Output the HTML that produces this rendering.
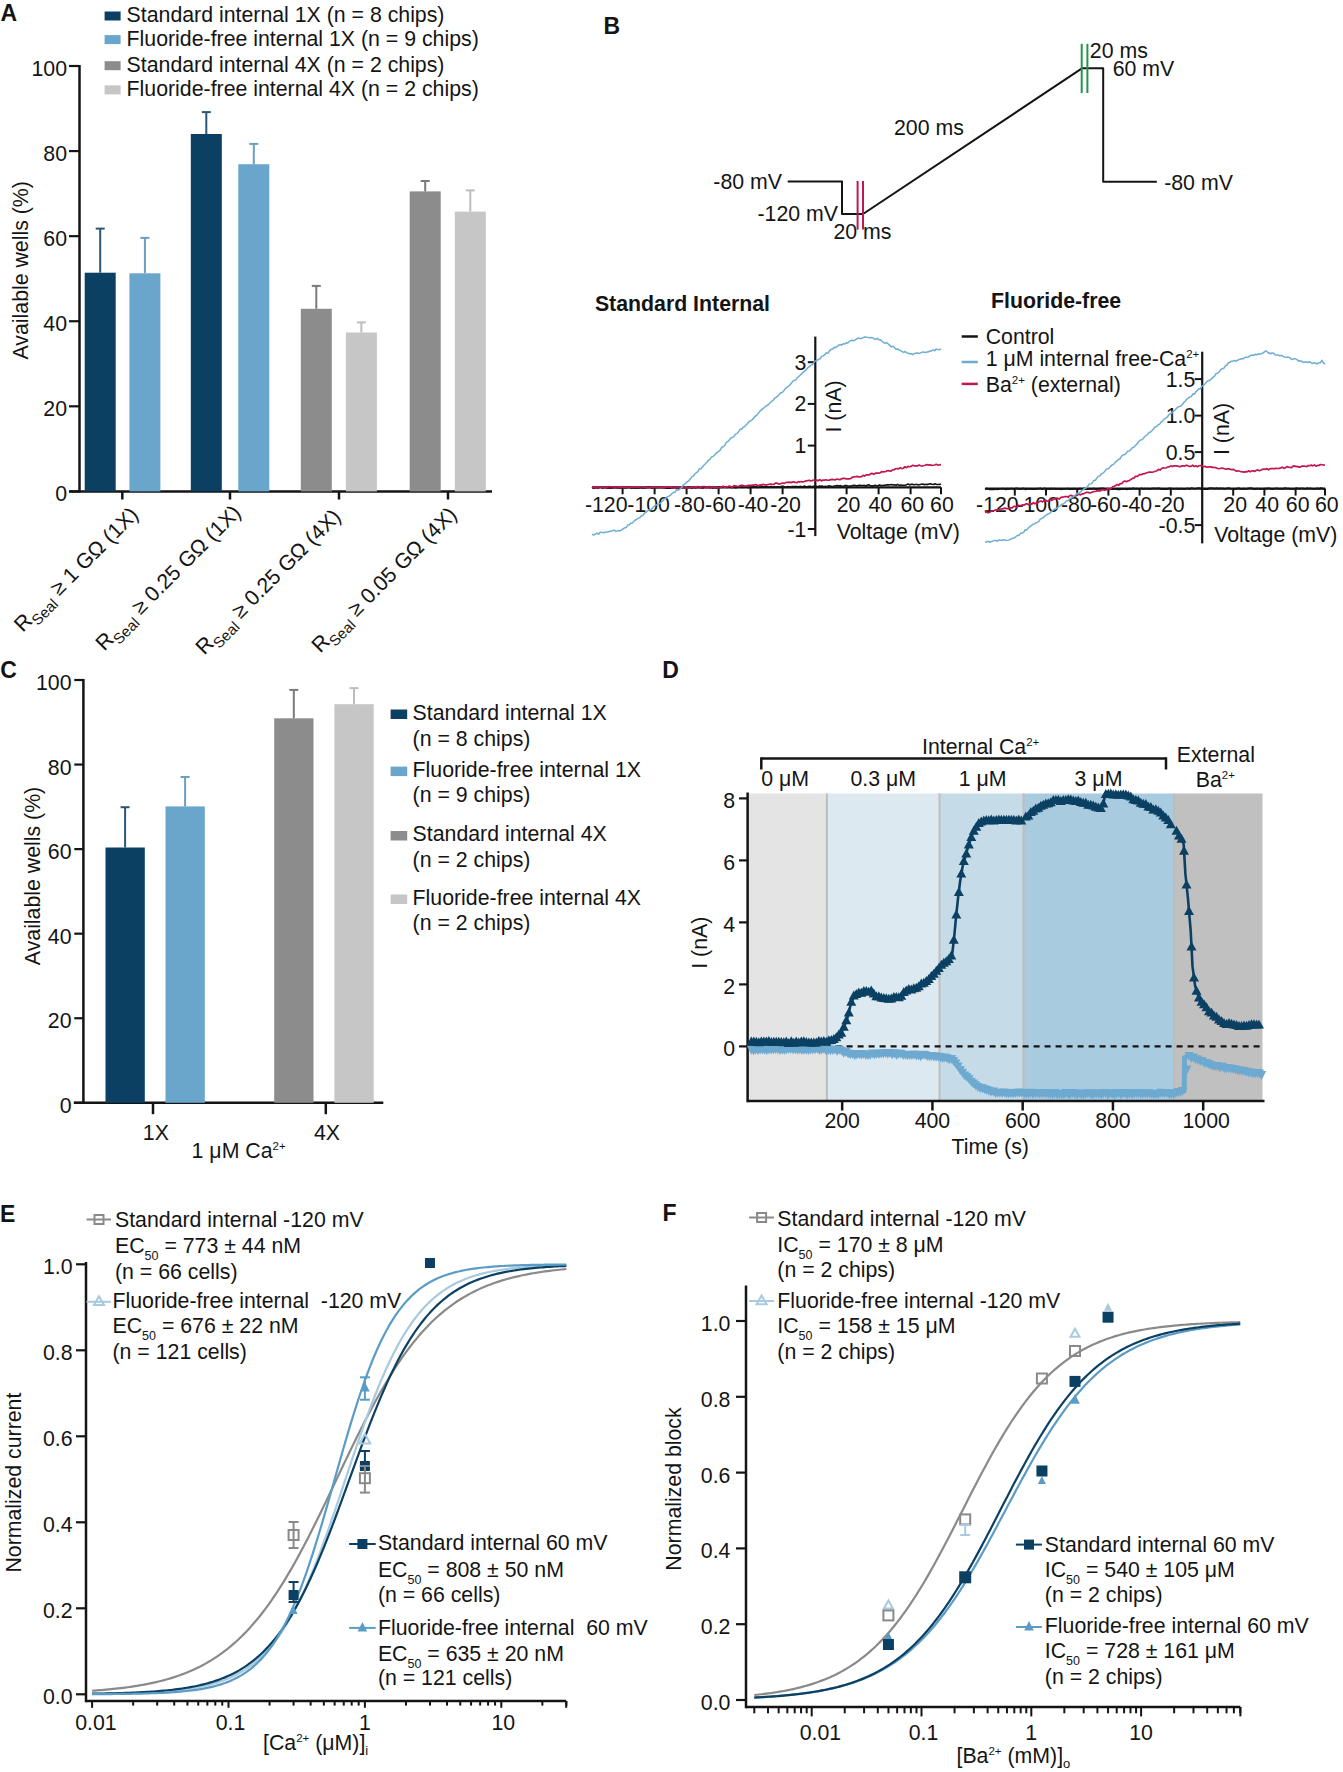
<!DOCTYPE html>
<html><head><meta charset="utf-8"><style>
html,body{margin:0;padding:0;background:#fff;overflow:hidden;}
svg{display:block;font-family:"Liberation Sans", sans-serif;}
</style></head><body>
<svg width="1343" height="1772" viewBox="0 0 1343 1772">
<rect width="1343" height="1772" fill="#fff"/>
<text x="0.5" y="20.6" font-size="23" text-anchor="start" font-weight="bold" fill="#141414" >A</text>
<rect x="104.60" y="11.50" width="16.00" height="9.00" fill="#0b4063"/>
<text x="126.6" y="22.0" font-size="21.3" text-anchor="start" font-weight="normal" fill="#141414" >Standard internal 1X (n = 8 chips)</text>
<rect x="104.60" y="35.10" width="16.00" height="9.00" fill="#6aa6cb"/>
<text x="126.6" y="45.6" font-size="21.3" text-anchor="start" font-weight="normal" fill="#141414" >Fluoride-free internal 1X (n = 9 chips)</text>
<rect x="104.60" y="61.20" width="16.00" height="9.00" fill="#8c8c8c"/>
<text x="126.6" y="71.7" font-size="21.3" text-anchor="start" font-weight="normal" fill="#141414" >Standard internal 4X (n = 2 chips)</text>
<rect x="104.60" y="85.40" width="16.00" height="9.00" fill="#c6c6c6"/>
<text x="126.6" y="95.9" font-size="21.3" text-anchor="start" font-weight="normal" fill="#141414" >Fluoride-free internal 4X (n = 2 chips)</text>
<line x1="79.50" y1="65.00" x2="79.50" y2="492.60" stroke="#141414" stroke-width="2.5" />
<line x1="69.00" y1="491.40" x2="492.00" y2="491.40" stroke="#141414" stroke-width="2.5" />
<line x1="69.00" y1="491.40" x2="79.50" y2="491.40" stroke="#141414" stroke-width="2.2" />
<text x="67.0" y="501.3" font-size="21.3" text-anchor="end" font-weight="normal" fill="#141414" >0</text>
<line x1="69.00" y1="406.32" x2="79.50" y2="406.32" stroke="#141414" stroke-width="2.2" />
<text x="67.0" y="416.2" font-size="21.3" text-anchor="end" font-weight="normal" fill="#141414" >20</text>
<line x1="69.00" y1="321.24" x2="79.50" y2="321.24" stroke="#141414" stroke-width="2.2" />
<text x="67.0" y="331.1" font-size="21.3" text-anchor="end" font-weight="normal" fill="#141414" >40</text>
<line x1="69.00" y1="236.16" x2="79.50" y2="236.16" stroke="#141414" stroke-width="2.2" />
<text x="67.0" y="246.1" font-size="21.3" text-anchor="end" font-weight="normal" fill="#141414" >60</text>
<line x1="69.00" y1="151.08" x2="79.50" y2="151.08" stroke="#141414" stroke-width="2.2" />
<text x="67.0" y="161.0" font-size="21.3" text-anchor="end" font-weight="normal" fill="#141414" >80</text>
<line x1="69.00" y1="66.00" x2="79.50" y2="66.00" stroke="#141414" stroke-width="2.2" />
<text x="67.0" y="75.9" font-size="21.3" text-anchor="end" font-weight="normal" fill="#141414" >100</text>
<line x1="122.30" y1="491.40" x2="122.30" y2="499.50" stroke="#141414" stroke-width="2.5" />
<line x1="230.00" y1="491.40" x2="230.00" y2="499.50" stroke="#141414" stroke-width="2.5" />
<line x1="339.00" y1="491.40" x2="339.00" y2="499.50" stroke="#141414" stroke-width="2.5" />
<line x1="448.00" y1="491.40" x2="448.00" y2="499.50" stroke="#141414" stroke-width="2.5" />
<rect x="84.70" y="272.70" width="31.00" height="218.70" fill="#0b4063"/>
<line x1="100.20" y1="228.60" x2="100.20" y2="272.70" stroke="#2b5677" stroke-width="2" />
<line x1="95.70" y1="228.60" x2="104.70" y2="228.60" stroke="#2b5677" stroke-width="2" />
<rect x="129.40" y="273.30" width="31.00" height="218.10" fill="#6aa6cb"/>
<line x1="144.90" y1="237.90" x2="144.90" y2="273.30" stroke="#6a9fc0" stroke-width="2" />
<line x1="140.40" y1="237.90" x2="149.40" y2="237.90" stroke="#6a9fc0" stroke-width="2" />
<rect x="190.80" y="134.00" width="31.00" height="357.40" fill="#0b4063"/>
<line x1="206.30" y1="112.10" x2="206.30" y2="134.00" stroke="#2b5677" stroke-width="2" />
<line x1="201.80" y1="112.10" x2="210.80" y2="112.10" stroke="#2b5677" stroke-width="2" />
<rect x="238.30" y="164.20" width="31.00" height="327.20" fill="#6aa6cb"/>
<line x1="253.80" y1="143.90" x2="253.80" y2="164.20" stroke="#6a9fc0" stroke-width="2" />
<line x1="249.30" y1="143.90" x2="258.30" y2="143.90" stroke="#6a9fc0" stroke-width="2" />
<rect x="300.80" y="308.80" width="31.00" height="182.60" fill="#8c8c8c"/>
<line x1="316.30" y1="285.90" x2="316.30" y2="308.80" stroke="#7a7a7a" stroke-width="2" />
<line x1="311.80" y1="285.90" x2="320.80" y2="285.90" stroke="#7a7a7a" stroke-width="2" />
<rect x="345.90" y="332.50" width="31.00" height="158.90" fill="#c6c6c6"/>
<line x1="361.40" y1="322.40" x2="361.40" y2="332.50" stroke="#bdbdbd" stroke-width="2" />
<line x1="356.90" y1="322.40" x2="365.90" y2="322.40" stroke="#bdbdbd" stroke-width="2" />
<rect x="409.70" y="191.40" width="31.00" height="300.00" fill="#8c8c8c"/>
<line x1="425.20" y1="181.00" x2="425.20" y2="191.40" stroke="#7a7a7a" stroke-width="2" />
<line x1="420.70" y1="181.00" x2="429.70" y2="181.00" stroke="#7a7a7a" stroke-width="2" />
<rect x="454.80" y="211.60" width="31.00" height="279.80" fill="#c6c6c6"/>
<line x1="470.30" y1="190.40" x2="470.30" y2="211.60" stroke="#bdbdbd" stroke-width="2" />
<line x1="465.80" y1="190.40" x2="474.80" y2="190.40" stroke="#bdbdbd" stroke-width="2" />
<text x="28.4" y="270.3" font-size="21.3" text-anchor="middle" font-weight="normal" fill="#141414" transform="rotate(-90 28.4 270.3)">Available wells (%)</text>
<text x="139.6" y="516.0" font-size="21.3" text-anchor="end" font-weight="normal" fill="#141414" transform="rotate(-45 139.6 516)">R<tspan font-size="15" dy="6">Seal</tspan><tspan dy="-6"> ≥ 1 GΩ (1X)</tspan></text>
<text x="242.0" y="514.0" font-size="21.3" text-anchor="end" font-weight="normal" fill="#141414" transform="rotate(-45 242 514)">R<tspan font-size="15" dy="6">Seal</tspan><tspan dy="-6"> ≥ 0.25 GΩ (1X)</tspan></text>
<text x="342.0" y="518.0" font-size="21.3" text-anchor="end" font-weight="normal" fill="#141414" transform="rotate(-45 342 518)">R<tspan font-size="15" dy="6">Seal</tspan><tspan dy="-6"> ≥ 0.25 GΩ (4X)</tspan></text>
<text x="458.0" y="516.0" font-size="21.3" text-anchor="end" font-weight="normal" fill="#141414" transform="rotate(-45 458 516)">R<tspan font-size="15" dy="6">Seal</tspan><tspan dy="-6"> ≥ 0.05 GΩ (4X)</tspan></text>
<text x="603.5" y="34.4" font-size="23" text-anchor="start" font-weight="bold" fill="#141414" >B</text>
<polyline points="787.70,181.40 842.00,181.40 842.00,214.00 863.00,214.00 1082.30,68.20 1103.20,68.20 1103.20,181.70 1156.80,181.70" fill="none" stroke="#141414" stroke-width="2" stroke-linejoin="round" />
<line x1="857.60" y1="181.00" x2="857.60" y2="229.60" stroke="#c2174e" stroke-width="2" />
<line x1="863.00" y1="181.00" x2="863.00" y2="229.60" stroke="#c2174e" stroke-width="2" />
<line x1="1081.70" y1="43.80" x2="1081.70" y2="93.00" stroke="#24944a" stroke-width="2" />
<line x1="1087.40" y1="43.80" x2="1087.40" y2="93.00" stroke="#24944a" stroke-width="2" />
<text x="713.3" y="188.7" font-size="21.3" text-anchor="start" font-weight="normal" fill="#141414" >-80 mV</text>
<text x="757.5" y="221.0" font-size="21.3" text-anchor="start" font-weight="normal" fill="#141414" >-120 mV</text>
<text x="833.5" y="239.0" font-size="21.3" text-anchor="start" font-weight="normal" fill="#141414" >20 ms</text>
<text x="894.0" y="134.7" font-size="21.3" text-anchor="start" font-weight="normal" fill="#141414" >200 ms</text>
<text x="1089.8" y="57.8" font-size="21.3" text-anchor="start" font-weight="normal" fill="#141414" >20 ms</text>
<text x="1112.7" y="76.0" font-size="21.3" text-anchor="start" font-weight="normal" fill="#141414" >60 mV</text>
<text x="1164.2" y="189.8" font-size="21.3" text-anchor="start" font-weight="normal" fill="#141414" >-80 mV</text>
<text x="594.9" y="311.3" font-size="21.3" text-anchor="start" font-weight="bold" fill="#141414" >Standard Internal</text>
<line x1="815.30" y1="336.60" x2="815.30" y2="536.10" stroke="#141414" stroke-width="2.2" />
<line x1="592.00" y1="487.30" x2="941.00" y2="487.30" stroke="#141414" stroke-width="2.2" />
<line x1="807.80" y1="362.20" x2="815.30" y2="362.20" stroke="#141414" stroke-width="2" />
<text x="806.4" y="369.7" font-size="21.3" text-anchor="end" font-weight="normal" fill="#141414" >3</text>
<line x1="807.80" y1="403.90" x2="815.30" y2="403.90" stroke="#141414" stroke-width="2" />
<text x="806.4" y="411.4" font-size="21.3" text-anchor="end" font-weight="normal" fill="#141414" >2</text>
<line x1="807.80" y1="445.60" x2="815.30" y2="445.60" stroke="#141414" stroke-width="2" />
<text x="806.4" y="453.1" font-size="21.3" text-anchor="end" font-weight="normal" fill="#141414" >1</text>
<line x1="807.80" y1="529.00" x2="815.30" y2="529.00" stroke="#141414" stroke-width="2" />
<text x="806.4" y="536.5" font-size="21.3" text-anchor="end" font-weight="normal" fill="#141414" >-1</text>
<line x1="622.60" y1="487.30" x2="622.60" y2="494.30" stroke="#141414" stroke-width="2" />
<line x1="654.60" y1="487.30" x2="654.60" y2="494.30" stroke="#141414" stroke-width="2" />
<line x1="686.60" y1="487.30" x2="686.60" y2="494.30" stroke="#141414" stroke-width="2" />
<line x1="718.60" y1="487.30" x2="718.60" y2="494.30" stroke="#141414" stroke-width="2" />
<line x1="750.60" y1="487.30" x2="750.60" y2="494.30" stroke="#141414" stroke-width="2" />
<line x1="782.60" y1="487.30" x2="782.60" y2="494.30" stroke="#141414" stroke-width="2" />
<line x1="846.60" y1="487.30" x2="846.60" y2="494.30" stroke="#141414" stroke-width="2" />
<line x1="878.60" y1="487.30" x2="878.60" y2="494.30" stroke="#141414" stroke-width="2" />
<line x1="910.60" y1="487.30" x2="910.60" y2="494.30" stroke="#141414" stroke-width="2" />
<line x1="941.00" y1="487.30" x2="941.00" y2="494.30" stroke="#141414" stroke-width="2" />
<text x="584.9" y="511.6" font-size="21.3" text-anchor="start" font-weight="normal" fill="#141414" >-120</text>
<text x="627.3" y="511.6" font-size="21.3" text-anchor="start" font-weight="normal" fill="#141414" >-100</text>
<text x="674.0" y="511.6" font-size="21.3" text-anchor="start" font-weight="normal" fill="#141414" >-80</text>
<text x="705.1" y="511.6" font-size="21.3" text-anchor="start" font-weight="normal" fill="#141414" >-60</text>
<text x="737.7" y="511.6" font-size="21.3" text-anchor="start" font-weight="normal" fill="#141414" >-40</text>
<text x="770.2" y="511.6" font-size="21.3" text-anchor="start" font-weight="normal" fill="#141414" >-20</text>
<text x="836.7" y="511.6" font-size="21.3" text-anchor="start" font-weight="normal" fill="#141414" >20</text>
<text x="868.4" y="511.6" font-size="21.3" text-anchor="start" font-weight="normal" fill="#141414" >40</text>
<text x="900.4" y="511.6" font-size="21.3" text-anchor="start" font-weight="normal" fill="#141414" >60</text>
<text x="930.1" y="511.6" font-size="21.3" text-anchor="start" font-weight="normal" fill="#141414" >60</text>
<text x="836.7" y="538.9" font-size="21.3" text-anchor="start" font-weight="normal" fill="#141414" >Voltage (mV)</text>
<text x="840.5" y="406.5" font-size="21.3" text-anchor="middle" font-weight="normal" fill="#141414" transform="rotate(-90 840.5 406.5)">I (nA)</text>
<polyline points="592.00,487.49 593.50,487.85 595.00,487.64 596.50,487.92 598.00,487.94 599.50,487.26 601.00,487.20 602.50,488.19 604.00,487.49 605.50,487.46 607.00,488.37 608.50,487.73 610.00,488.17 611.50,487.74 613.00,487.93 614.50,487.34 616.00,487.92 617.50,488.19 619.00,487.78 620.50,488.04 622.00,487.95 623.50,487.22 625.00,488.05 626.50,487.85 628.00,487.49 629.50,487.17 631.00,488.17 632.50,487.69 634.00,487.98 635.50,488.17 637.00,487.97 638.50,488.22 640.00,487.59 641.50,488.07 643.00,487.64 644.50,488.23 646.00,488.15 647.50,487.21 649.00,487.26 650.50,487.35 652.00,488.25 653.50,487.61 655.00,487.84 656.50,487.44 658.00,487.69 659.50,487.54 661.00,487.49 662.50,487.77 664.00,487.77 665.50,488.15 667.00,487.88 668.50,488.17 670.00,488.08 671.50,488.24 673.00,487.86 674.50,487.24 676.00,488.08 677.50,488.20 679.00,488.12 680.50,487.72 682.00,487.89 683.50,487.28 685.00,488.03 686.50,487.71 688.00,487.36 689.50,487.10 691.00,488.04 692.50,488.20 694.00,487.12 695.50,487.97 697.00,487.50 698.50,487.18 700.00,487.35 701.51,487.91 703.03,488.02 704.54,487.01 706.05,487.68 707.57,486.98 709.08,487.78 710.59,487.30 712.11,487.94 713.62,488.05 715.13,487.46 716.64,488.04 718.16,487.20 719.67,486.90 721.18,487.52 722.70,486.82 724.21,487.01 725.72,487.24 727.24,487.47 728.75,486.91 730.26,486.76 731.78,487.74 733.29,487.06 734.80,487.82 736.32,487.73 737.83,487.09 739.34,487.18 740.86,487.23 742.37,487.37 743.88,487.30 745.39,487.24 746.91,487.30 748.42,487.67 749.93,487.13 751.45,487.03 752.96,487.36 754.47,486.76 755.99,486.83 757.50,487.62 759.01,487.06 760.53,487.08 762.04,486.42 763.55,486.89 765.07,487.07 766.58,486.39 768.09,487.09 769.61,487.09 771.12,486.39 772.63,487.06 774.14,486.85 775.66,487.09 777.17,486.68 778.68,487.10 780.20,487.12 781.71,486.25 783.22,486.28 784.74,487.00 786.25,487.33 787.76,486.46 789.28,486.69 790.79,486.84 792.30,486.50 793.82,486.54 795.33,486.46 796.84,486.52 798.36,486.77 799.87,486.41 801.38,486.48 802.89,486.94 804.41,486.03 805.92,486.67 807.43,486.85 808.95,486.33 810.46,486.21 811.97,486.89 813.49,486.20 815.00,486.12 816.50,486.39 818.00,486.68 819.50,485.93 821.00,486.17 822.50,486.15 824.00,486.72 825.50,486.22 827.00,486.69 828.50,485.84 830.00,486.01 831.50,486.35 833.00,486.60 834.50,486.05 836.00,485.75 837.50,485.60 839.00,486.06 840.50,485.62 842.00,486.33 843.50,486.34 845.00,485.53 846.50,485.61 848.00,486.21 849.50,485.99 851.00,486.15 852.50,485.57 854.00,485.28 855.50,485.45 857.00,486.02 858.50,485.36 860.00,485.42 861.50,485.48 863.00,485.45 864.50,485.41 866.00,485.99 867.50,485.05 869.00,484.83 870.50,485.93 872.00,485.83 873.50,485.92 875.00,485.23 876.50,485.82 878.00,485.76 879.50,484.89 881.00,485.49 882.50,485.56 884.00,485.33 885.50,485.12 887.00,484.82 888.50,484.85 890.00,484.68 891.50,484.46 893.00,485.06 894.50,484.67 896.00,485.27 897.50,484.32 899.00,485.32 900.50,485.04 902.00,485.28 903.50,485.22 905.00,485.19 906.50,484.78 908.00,484.07 909.50,484.92 911.00,484.20 912.50,484.33 914.00,484.73 915.50,484.54 917.00,484.37 918.50,484.97 920.00,484.55 921.50,484.20 923.00,484.06 924.50,484.76 926.00,484.27 927.50,484.61 929.00,484.06 930.50,483.85 932.00,484.22 933.50,484.53 935.00,483.72 936.50,484.44 938.00,484.57 939.50,484.40 941.00,484.00" fill="none" stroke="#141414" stroke-width="1.6" stroke-linejoin="round" />
<polyline points="592.00,488.02 593.51,486.71 595.01,487.70 596.52,488.07 598.02,486.77 599.53,487.12 601.04,487.11 602.54,487.53 604.05,487.36 605.56,487.43 607.06,487.92 608.57,486.68 610.07,486.76 611.58,486.87 613.09,486.86 614.59,486.77 616.10,488.22 617.60,488.03 619.11,486.79 620.62,487.46 622.12,487.16 623.63,487.15 625.14,487.21 626.64,487.68 628.15,487.58 629.65,487.22 631.16,486.94 632.67,487.16 634.17,486.83 635.68,487.52 637.19,487.77 638.69,487.23 640.20,486.75 641.70,486.90 643.21,487.21 644.72,487.58 646.22,487.86 647.73,487.22 649.23,487.89 650.74,487.60 652.25,487.29 653.75,487.19 655.26,487.39 656.77,487.72 658.27,487.26 659.78,487.70 661.28,487.32 662.79,486.98 664.30,487.44 665.80,487.69 667.31,486.69 668.81,487.25 670.32,487.25 671.83,487.98 673.33,488.07 674.84,487.16 676.35,488.00 677.85,487.82 679.36,486.98 680.86,487.30 682.37,486.75 683.88,487.85 685.38,487.61 686.89,487.96 688.40,487.81 689.90,487.61 691.41,487.71 692.91,487.44 694.42,486.70 695.93,487.47 697.43,486.54 698.94,486.75 700.44,487.76 701.95,486.59 703.46,486.66 704.96,486.67 706.47,487.92 707.98,486.80 709.48,486.54 710.99,487.85 712.49,486.70 714.00,487.85 715.53,487.50 717.07,487.68 718.60,487.79 720.13,487.12 721.67,487.39 723.20,486.10 724.73,487.19 726.27,486.70 727.80,486.95 729.33,485.90 730.87,486.86 732.40,487.08 733.93,485.60 735.47,485.95 737.00,486.25 738.53,486.60 740.07,485.58 741.60,485.41 743.13,485.44 744.67,485.95 746.20,486.10 747.73,485.44 749.27,485.32 750.80,485.29 752.33,485.14 753.87,485.18 755.40,484.56 756.93,485.15 758.47,485.83 760.00,484.86 761.53,485.27 763.07,484.21 764.60,484.93 766.13,484.91 767.67,484.65 769.20,484.28 770.73,484.10 772.27,484.23 773.80,484.51 775.33,483.19 776.87,482.98 778.40,483.90 779.93,484.04 781.47,483.28 783.00,483.03 784.53,483.35 786.07,482.37 787.60,482.38 789.13,482.14 790.67,482.64 792.20,482.08 793.73,481.82 795.27,482.43 796.80,482.73 798.33,481.55 799.87,482.08 801.40,481.49 802.93,482.07 804.47,481.51 806.00,480.88 807.53,480.67 809.07,480.24 810.60,480.84 812.13,480.56 813.67,480.10 815.20,480.28 816.75,480.12 818.30,480.75 819.84,479.64 821.39,480.90 822.94,479.99 824.49,480.09 826.03,479.78 827.58,480.27 829.13,480.16 830.68,479.64 832.22,479.42 833.77,479.71 835.32,479.83 836.87,479.01 838.41,479.45 839.96,479.71 841.51,478.83 843.06,478.35 844.60,478.27 846.15,478.94 847.70,478.78 849.24,478.96 850.78,478.51 852.32,477.26 853.86,476.89 855.40,476.73 856.95,476.34 858.49,476.89 860.03,476.86 861.57,476.64 863.11,475.34 864.65,476.03 866.19,474.87 867.73,474.77 869.27,474.98 870.81,473.68 872.35,473.41 873.90,474.32 875.44,473.18 876.98,473.00 878.52,473.08 880.06,472.96 881.60,471.61 883.15,471.80 884.71,471.62 886.26,471.36 887.82,470.58 889.38,470.84 890.93,471.09 892.49,469.85 894.04,469.75 895.60,468.73 897.15,468.64 898.71,468.92 900.26,467.70 901.82,468.60 903.37,468.29 904.93,466.66 906.48,467.67 908.04,466.42 909.59,466.72 911.15,466.35 912.70,465.27 914.27,465.83 915.84,465.75 917.42,465.94 918.99,465.02 920.56,465.76 922.13,466.04 923.71,465.53 925.28,465.26 926.85,464.53 928.42,465.09 929.99,464.81 931.57,465.35 933.14,465.24 934.71,465.01 936.28,464.34 937.86,465.03 939.43,464.96 941.00,464.70" fill="none" stroke="#c2174e" stroke-width="1.7" stroke-linejoin="round" />
<polyline points="592.00,534.12 593.62,535.06 595.25,534.30 596.88,533.01 598.50,534.13 600.12,532.37 601.75,532.37 603.38,532.73 605.00,532.18 606.52,531.94 608.04,531.94 609.55,531.43 611.07,531.01 612.59,530.60 614.11,530.24 615.63,531.24 617.15,531.15 618.66,530.60 620.18,530.79 621.70,529.95 623.23,528.68 624.76,527.79 626.28,527.57 627.81,524.98 629.34,524.71 630.87,523.14 632.40,522.98 633.93,521.14 635.45,520.00 636.98,519.03 638.51,518.17 640.04,517.49 641.57,515.64 643.09,515.42 644.62,513.00 646.15,512.19 647.68,510.78 649.21,509.70 650.74,509.80 652.26,508.61 653.79,506.53 655.32,505.44 656.85,504.75 658.38,504.24 659.91,503.27 661.43,502.05 662.96,500.67 664.49,498.76 666.02,498.12 667.55,496.65 669.07,496.15 670.60,495.12 672.13,493.36 673.66,492.35 675.19,492.21 676.72,489.75 678.24,490.05 679.77,489.10 681.30,488.11 682.81,485.62 684.31,484.46 685.82,483.04 687.32,481.66 688.83,480.81 690.33,478.82 691.84,476.65 693.34,476.19 694.85,474.05 696.35,472.79 697.86,471.55 699.36,468.77 700.87,468.69 702.37,467.02 703.88,465.25 705.38,463.83 706.89,462.25 708.39,460.30 709.90,459.44 711.40,457.08 712.91,456.45 714.41,455.24 715.92,453.41 717.42,452.16 718.93,451.40 720.43,449.81 721.94,446.97 723.44,446.69 724.95,444.91 726.45,442.41 727.96,441.50 729.46,439.80 730.97,438.06 732.47,437.42 733.98,436.65 735.48,434.09 736.99,433.61 738.49,431.82 740.00,429.34 741.51,429.28 743.01,427.46 744.52,426.68 746.02,424.94 747.53,423.62 749.04,421.55 750.54,421.02 752.05,419.88 753.55,418.39 755.06,416.27 756.57,415.48 758.07,413.63 759.58,411.59 761.08,410.11 762.59,408.81 764.10,407.67 765.60,406.24 767.11,405.48 768.61,404.48 770.12,402.83 771.63,401.26 773.13,400.30 774.64,398.32 776.14,397.25 777.65,396.41 779.16,394.41 780.66,392.65 782.17,392.58 783.67,390.90 785.18,388.90 786.69,387.55 788.19,386.47 789.70,385.23 791.20,383.19 792.71,381.43 794.22,380.44 795.72,380.12 797.23,377.60 798.73,376.81 800.24,374.97 801.75,373.63 803.25,372.20 804.76,371.26 806.26,369.47 807.77,367.86 809.28,366.65 810.78,365.39 812.29,364.61 813.79,362.47 815.30,361.04 816.88,360.63 818.45,359.38 820.02,358.74 821.60,356.39 823.17,355.85 824.75,354.66 826.33,352.82 827.90,353.34 829.48,350.82 831.05,349.42 832.62,348.93 834.20,347.20 835.70,347.41 837.20,346.30 838.70,345.29 840.20,344.55 841.70,345.15 843.20,343.73 844.70,344.04 846.20,342.85 847.70,343.08 849.21,341.42 850.72,340.81 852.23,340.31 853.74,340.78 855.26,339.92 856.77,338.89 858.28,337.91 859.79,338.45 861.30,338.44 862.90,337.89 864.50,336.96 866.10,337.14 867.70,337.37 869.30,337.64 870.90,337.53 872.50,337.69 874.10,338.90 875.70,339.47 877.30,338.33 878.90,339.85 880.46,339.84 882.02,341.32 883.58,342.41 885.15,343.33 886.71,342.58 888.27,343.96 889.83,345.38 891.39,346.88 892.95,346.22 894.52,347.47 896.08,349.36 897.64,348.92 899.20,350.30 900.70,350.58 902.20,351.58 903.70,352.40 905.20,351.43 906.70,352.82 908.20,353.19 909.70,353.75 911.20,353.62 912.70,354.66 914.26,353.45 915.81,353.35 917.37,352.81 918.93,353.60 920.49,352.87 922.04,352.29 923.60,351.91 925.18,352.58 926.76,352.05 928.35,351.92 929.93,351.02 931.51,350.89 933.09,349.97 934.67,350.65 936.25,349.10 937.84,349.58 939.42,349.78 941.00,349.00" fill="none" stroke="#6fadd3" stroke-width="1.5" stroke-linejoin="round" />
<text x="991.0" y="307.8" font-size="21.3" text-anchor="start" font-weight="bold" fill="#141414" >Fluoride-free</text>
<line x1="961.70" y1="336.50" x2="977.80" y2="336.50" stroke="#141414" stroke-width="2.5" />
<text x="985.7" y="343.5" font-size="21.3" text-anchor="start" font-weight="normal" fill="#141414" >Control</text>
<line x1="961.70" y1="362.00" x2="977.80" y2="362.00" stroke="#6aabd2" stroke-width="2.5" />
<text x="985.7" y="366.3" font-size="21.3" text-anchor="start" font-weight="normal" fill="#141414" >1 μM internal free-Ca<tspan font-size="11.5" dy="-8">2+</tspan><tspan dy="8"></tspan></text>
<line x1="961.70" y1="383.90" x2="977.80" y2="383.90" stroke="#c2174e" stroke-width="2.5" />
<text x="985.7" y="391.8" font-size="21.3" text-anchor="start" font-weight="normal" fill="#141414" >Ba<tspan font-size="11.5" dy="-8">2+</tspan><tspan dy="8"> (external)</tspan></text>
<line x1="1202.20" y1="351.70" x2="1202.20" y2="543.40" stroke="#141414" stroke-width="2.2" />
<line x1="985.10" y1="488.60" x2="1325.20" y2="488.60" stroke="#141414" stroke-width="2.2" />
<line x1="1194.70" y1="379.10" x2="1202.20" y2="379.10" stroke="#141414" stroke-width="2" />
<text x="1195.3" y="386.6" font-size="21.3" text-anchor="end" font-weight="normal" fill="#141414" >1.5</text>
<line x1="1194.70" y1="415.60" x2="1202.20" y2="415.60" stroke="#141414" stroke-width="2" />
<text x="1195.3" y="423.1" font-size="21.3" text-anchor="end" font-weight="normal" fill="#141414" >1.0</text>
<line x1="1194.70" y1="452.10" x2="1202.20" y2="452.10" stroke="#141414" stroke-width="2" />
<text x="1195.3" y="459.6" font-size="21.3" text-anchor="end" font-weight="normal" fill="#141414" >0.5</text>
<line x1="1194.70" y1="525.10" x2="1202.20" y2="525.10" stroke="#141414" stroke-width="2" />
<text x="1195.3" y="532.6" font-size="21.3" text-anchor="end" font-weight="normal" fill="#141414" >-0.5</text>
<line x1="1014.80" y1="488.60" x2="1014.80" y2="495.60" stroke="#141414" stroke-width="2" />
<line x1="1046.00" y1="488.60" x2="1046.00" y2="495.60" stroke="#141414" stroke-width="2" />
<line x1="1077.20" y1="488.60" x2="1077.20" y2="495.60" stroke="#141414" stroke-width="2" />
<line x1="1108.40" y1="488.60" x2="1108.40" y2="495.60" stroke="#141414" stroke-width="2" />
<line x1="1139.60" y1="488.60" x2="1139.60" y2="495.60" stroke="#141414" stroke-width="2" />
<line x1="1170.80" y1="488.60" x2="1170.80" y2="495.60" stroke="#141414" stroke-width="2" />
<line x1="1233.20" y1="488.60" x2="1233.20" y2="495.60" stroke="#141414" stroke-width="2" />
<line x1="1264.40" y1="488.60" x2="1264.40" y2="495.60" stroke="#141414" stroke-width="2" />
<line x1="1295.60" y1="488.60" x2="1295.60" y2="495.60" stroke="#141414" stroke-width="2" />
<line x1="1325.00" y1="488.60" x2="1325.00" y2="495.60" stroke="#141414" stroke-width="2" />
<text x="976.1" y="511.6" font-size="21.3" text-anchor="start" font-weight="normal" fill="#141414" >-120</text>
<text x="1016.4" y="511.6" font-size="21.3" text-anchor="start" font-weight="normal" fill="#141414" >-100</text>
<text x="1060.9" y="511.6" font-size="21.3" text-anchor="start" font-weight="normal" fill="#141414" >-80</text>
<text x="1090.0" y="511.6" font-size="21.3" text-anchor="start" font-weight="normal" fill="#141414" >-60</text>
<text x="1121.4" y="511.6" font-size="21.3" text-anchor="start" font-weight="normal" fill="#141414" >-40</text>
<text x="1153.9" y="511.6" font-size="21.3" text-anchor="start" font-weight="normal" fill="#141414" >-20</text>
<text x="1223.3" y="511.6" font-size="21.3" text-anchor="start" font-weight="normal" fill="#141414" >20</text>
<text x="1255.3" y="511.6" font-size="21.3" text-anchor="start" font-weight="normal" fill="#141414" >40</text>
<text x="1285.8" y="511.6" font-size="21.3" text-anchor="start" font-weight="normal" fill="#141414" >60</text>
<text x="1315.0" y="511.6" font-size="21.3" text-anchor="start" font-weight="normal" fill="#141414" >60</text>
<text x="1214.2" y="541.8" font-size="21.3" text-anchor="start" font-weight="normal" fill="#141414" >Voltage (mV)</text>
<text x="1229.0" y="429.0" font-size="21.3" text-anchor="middle" font-weight="normal" fill="#141414" transform="rotate(-90 1229 429)">I (nA)</text>
<polyline points="985.00,489.21 986.50,488.51 988.01,488.68 989.51,489.41 991.02,489.16 992.52,489.44 994.03,489.43 995.53,488.92 997.04,489.46 998.54,489.26 1000.04,488.78 1001.55,488.82 1003.05,488.46 1004.56,488.85 1006.06,489.52 1007.57,488.49 1009.07,489.05 1010.58,488.49 1012.08,488.46 1013.58,489.14 1015.09,488.64 1016.59,488.41 1018.10,488.53 1019.60,489.12 1021.11,489.05 1022.61,488.36 1024.12,488.62 1025.62,489.50 1027.12,488.60 1028.63,489.01 1030.13,488.84 1031.64,489.27 1033.14,489.05 1034.65,489.27 1036.15,488.97 1037.65,488.55 1039.16,488.53 1040.66,488.41 1042.17,489.31 1043.67,488.45 1045.18,488.34 1046.68,489.47 1048.19,488.55 1049.69,489.38 1051.19,488.41 1052.70,488.86 1054.20,488.57 1055.71,489.29 1057.21,489.03 1058.72,489.06 1060.22,489.20 1061.73,489.33 1063.23,488.70 1064.73,489.01 1066.24,488.82 1067.74,488.41 1069.25,489.28 1070.75,488.99 1072.26,489.25 1073.76,488.52 1075.27,488.91 1076.77,488.82 1078.27,489.14 1079.78,488.35 1081.28,488.67 1082.79,488.84 1084.29,488.34 1085.80,488.92 1087.30,489.13 1088.81,488.75 1090.31,489.02 1091.81,488.97 1093.32,488.50 1094.82,488.66 1096.33,489.43 1097.83,488.64 1099.34,488.75 1100.84,488.33 1102.35,488.49 1103.85,488.42 1105.35,489.34 1106.86,489.09 1108.36,489.27 1109.87,489.40 1111.37,488.95 1112.88,489.33 1114.38,488.85 1115.88,488.71 1117.39,489.34 1118.89,489.29 1120.40,489.34 1121.90,488.78 1123.41,489.12 1124.91,488.68 1126.42,489.39 1127.92,489.29 1129.42,488.54 1130.93,489.31 1132.43,488.40 1133.94,488.30 1135.44,489.05 1136.95,488.53 1138.45,488.80 1139.96,488.94 1141.46,488.22 1142.96,489.06 1144.47,488.50 1145.97,488.68 1147.48,488.57 1148.98,489.05 1150.49,489.05 1151.99,488.50 1153.50,488.28 1155.00,488.51 1156.50,488.64 1158.01,488.24 1159.51,488.33 1161.02,489.06 1162.52,488.98 1164.03,489.31 1165.53,489.31 1167.04,489.18 1168.54,488.58 1170.04,488.32 1171.55,488.50 1173.05,488.68 1174.56,488.75 1176.06,488.77 1177.57,488.55 1179.07,489.14 1180.58,488.45 1182.08,488.67 1183.58,489.17 1185.09,489.07 1186.59,488.46 1188.10,488.39 1189.60,489.07 1191.11,488.11 1192.61,488.25 1194.12,488.73 1195.62,488.73 1197.12,488.29 1198.63,488.15 1200.13,488.33 1201.64,489.01 1203.14,488.64 1204.65,489.25 1206.15,489.02 1207.65,489.25 1209.16,488.11 1210.66,488.29 1212.17,488.08 1213.67,488.58 1215.18,488.47 1216.68,488.12 1218.19,488.71 1219.69,488.17 1221.19,488.43 1222.70,488.35 1224.20,489.01 1225.71,488.55 1227.21,488.36 1228.72,488.09 1230.22,488.55 1231.73,488.79 1233.23,488.85 1234.73,489.13 1236.24,489.00 1237.74,488.33 1239.25,488.19 1240.75,488.93 1242.26,488.97 1243.76,488.63 1245.27,489.01 1246.77,488.68 1248.27,488.35 1249.78,488.21 1251.28,488.03 1252.79,488.78 1254.29,489.08 1255.80,489.09 1257.30,488.56 1258.81,488.80 1260.31,489.11 1261.81,488.97 1263.32,488.71 1264.82,488.49 1266.33,488.61 1267.83,488.19 1269.34,488.20 1270.84,488.80 1272.35,489.17 1273.85,488.63 1275.35,488.46 1276.86,488.39 1278.36,488.51 1279.87,488.93 1281.37,488.51 1282.88,489.11 1284.38,488.15 1285.88,488.34 1287.39,488.58 1288.89,488.45 1290.40,488.97 1291.90,488.94 1293.41,489.06 1294.91,488.68 1296.42,487.98 1297.92,488.63 1299.42,488.60 1300.93,488.52 1302.43,488.27 1303.94,488.78 1305.44,489.02 1306.95,488.05 1308.45,488.73 1309.96,488.37 1311.46,488.54 1312.96,488.99 1314.47,489.07 1315.97,488.69 1317.48,488.15 1318.98,489.01 1320.49,488.12 1321.99,488.36 1323.50,488.90 1325.00,488.50" fill="none" stroke="#141414" stroke-width="1.6" stroke-linejoin="round" />
<polyline points="985.00,512.31 986.51,511.94 988.02,512.73 989.53,512.43 991.05,511.14 992.56,510.96 994.07,510.49 995.58,509.96 997.09,509.86 998.60,510.73 1000.12,509.00 1001.63,508.94 1003.14,508.60 1004.65,508.12 1006.16,508.54 1007.67,508.59 1009.19,508.45 1010.70,507.83 1012.21,507.83 1013.72,506.24 1015.23,506.39 1016.74,507.18 1018.26,505.46 1019.77,505.49 1021.28,505.54 1022.79,504.90 1024.30,505.06 1025.81,503.96 1027.33,503.97 1028.84,504.83 1030.35,503.24 1031.86,504.17 1033.37,502.71 1034.88,503.72 1036.40,502.92 1037.91,502.58 1039.42,501.48 1040.93,501.05 1042.44,501.88 1043.95,500.65 1045.47,500.38 1046.98,501.10 1048.49,500.89 1050.00,499.28 1051.53,500.44 1053.05,499.47 1054.58,498.93 1056.10,498.20 1057.63,498.36 1059.15,499.03 1060.68,497.60 1062.21,497.07 1063.73,496.80 1065.26,496.48 1066.78,496.55 1068.31,497.16 1069.83,495.52 1071.36,495.41 1072.88,496.32 1074.41,496.12 1075.94,495.80 1077.46,494.33 1078.99,494.21 1080.51,494.88 1082.04,493.84 1083.56,493.89 1085.09,492.98 1086.62,492.22 1088.14,492.44 1089.67,492.80 1091.19,492.56 1092.72,491.93 1094.24,491.47 1095.77,491.29 1097.29,490.85 1098.82,490.70 1100.35,490.89 1101.87,489.58 1103.40,489.92 1104.92,490.17 1106.45,489.74 1107.97,488.38 1109.50,489.34 1111.03,488.46 1112.55,486.71 1114.08,486.19 1115.60,485.40 1117.12,484.48 1118.65,485.29 1120.17,483.69 1121.70,483.76 1123.22,481.86 1124.75,481.02 1126.28,481.71 1127.80,480.91 1129.33,480.55 1130.85,479.38 1132.38,478.44 1133.90,478.15 1135.42,476.39 1136.95,476.42 1138.47,475.59 1140.00,474.43 1141.54,474.72 1143.09,473.84 1144.63,473.70 1146.17,473.05 1147.71,472.52 1149.26,472.14 1150.80,472.09 1152.34,472.26 1153.89,471.75 1155.43,471.20 1156.97,470.72 1158.51,469.40 1160.06,470.07 1161.60,468.50 1163.14,467.83 1164.69,467.99 1166.23,467.92 1167.77,466.86 1169.31,466.91 1170.86,465.89 1172.40,466.55 1173.96,465.74 1175.52,465.79 1177.07,465.88 1178.63,466.44 1180.19,466.63 1181.75,465.91 1183.31,465.78 1184.86,466.07 1186.42,465.21 1187.98,465.79 1189.54,466.47 1191.09,466.37 1192.65,465.23 1194.21,466.51 1195.77,465.77 1197.33,466.74 1198.88,465.77 1200.44,465.53 1202.00,466.08 1203.50,466.81 1205.01,466.28 1206.51,467.18 1208.01,467.12 1209.52,466.76 1211.02,466.86 1212.52,467.38 1214.03,467.41 1215.53,467.57 1217.03,468.21 1218.54,468.76 1220.04,468.49 1221.54,467.99 1223.05,468.30 1224.55,468.74 1226.06,469.33 1227.56,468.76 1229.06,468.87 1230.57,469.45 1232.07,469.58 1233.57,469.37 1235.08,470.39 1236.58,471.19 1238.08,470.77 1239.59,471.29 1241.09,471.64 1242.59,471.85 1244.10,472.16 1245.60,471.61 1247.13,471.83 1248.66,470.77 1250.19,471.82 1251.72,470.86 1253.26,470.85 1254.79,471.35 1256.32,470.22 1257.85,469.91 1259.38,470.76 1260.91,470.24 1262.44,469.25 1263.97,469.00 1265.50,469.36 1267.03,468.64 1268.57,469.80 1270.10,468.60 1271.63,468.58 1273.16,468.60 1274.69,468.64 1276.22,468.35 1277.75,468.50 1279.28,468.39 1280.81,467.87 1282.34,467.17 1283.88,468.41 1285.41,467.79 1286.94,466.66 1288.47,467.07 1290.00,467.41 1291.52,467.70 1293.04,466.13 1294.57,465.95 1296.09,466.62 1297.61,466.44 1299.13,467.11 1300.65,466.91 1302.17,466.03 1303.70,466.09 1305.22,466.26 1306.74,466.66 1308.26,465.48 1309.78,465.70 1311.30,465.12 1312.83,465.92 1314.35,464.85 1315.87,466.22 1317.39,465.47 1318.91,465.47 1320.43,464.60 1321.96,464.75 1323.48,465.04 1325.00,465.00" fill="none" stroke="#c2174e" stroke-width="1.7" stroke-linejoin="round" />
<polyline points="985.00,542.54 986.56,541.81 988.11,541.19 989.67,542.28 991.22,541.55 992.78,541.15 994.33,540.40 995.89,540.41 997.44,541.33 999.00,539.79 1000.56,540.35 1002.11,540.34 1003.67,539.71 1005.22,540.29 1006.78,540.38 1008.33,540.13 1009.89,539.75 1011.44,538.63 1013.00,538.21 1014.52,537.81 1016.05,536.52 1017.57,535.23 1019.09,535.38 1020.62,533.13 1022.14,533.15 1023.66,532.28 1025.19,529.74 1026.71,530.09 1028.23,528.09 1029.76,526.69 1031.28,525.57 1032.80,524.23 1034.33,523.98 1035.85,522.71 1037.37,522.48 1038.90,521.37 1040.42,518.90 1041.94,518.45 1043.47,517.35 1044.99,515.90 1046.51,514.96 1048.04,513.91 1049.56,513.61 1051.09,511.90 1052.61,510.42 1054.13,509.54 1055.66,508.87 1057.18,508.02 1058.70,506.37 1060.23,506.12 1061.75,504.17 1063.27,503.92 1064.80,502.74 1066.32,500.88 1067.84,500.85 1069.37,499.13 1070.89,498.32 1072.41,497.35 1073.94,496.34 1075.46,494.93 1076.98,493.16 1078.51,493.41 1080.03,492.46 1081.55,490.73 1083.08,489.81 1084.60,488.18 1086.14,488.00 1087.68,486.29 1089.22,484.13 1090.76,483.88 1092.29,482.86 1093.83,480.39 1095.37,480.24 1096.91,477.99 1098.45,476.12 1099.99,475.77 1101.53,473.77 1103.07,473.15 1104.61,471.56 1106.14,469.38 1107.68,468.82 1109.22,468.08 1110.76,466.08 1112.30,464.87 1113.84,464.13 1115.38,462.06 1116.92,460.82 1118.46,459.66 1119.99,458.77 1121.53,456.33 1123.07,454.81 1124.61,454.69 1126.15,452.99 1127.69,451.22 1129.23,450.96 1130.77,449.63 1132.31,447.69 1133.84,447.17 1135.38,445.57 1136.92,444.09 1138.46,441.95 1140.00,440.12 1141.51,439.99 1143.02,438.76 1144.54,436.74 1146.05,435.64 1147.56,434.47 1149.07,432.57 1150.59,432.05 1152.10,430.48 1153.61,428.83 1155.12,427.00 1156.63,426.48 1158.15,424.72 1159.66,424.12 1161.17,421.80 1162.68,420.87 1164.20,419.18 1165.71,418.24 1167.22,417.21 1168.73,415.04 1170.24,413.61 1171.76,413.05 1173.27,411.22 1174.78,410.44 1176.29,408.50 1177.80,407.05 1179.32,406.51 1180.83,405.87 1182.34,404.44 1183.85,402.48 1185.37,400.94 1186.88,399.01 1188.39,398.06 1189.90,396.80 1191.41,396.60 1192.93,393.79 1194.44,393.95 1195.95,391.78 1197.46,390.37 1198.98,388.73 1200.49,388.66 1202.00,385.93 1203.56,385.27 1205.11,383.80 1206.67,381.88 1208.22,380.56 1209.78,380.57 1211.33,378.86 1212.89,377.39 1214.44,376.34 1216.00,373.53 1217.56,373.26 1219.11,371.98 1220.67,369.67 1222.22,368.73 1223.78,368.30 1225.33,365.77 1226.89,365.19 1228.44,362.76 1230.00,362.30 1231.50,361.16 1233.00,361.16 1234.50,360.48 1236.00,360.95 1237.50,360.29 1239.00,359.43 1240.50,359.33 1242.00,358.44 1243.50,358.69 1245.00,357.27 1246.50,357.36 1248.00,357.00 1249.50,356.22 1251.00,355.18 1252.50,354.97 1254.00,355.39 1255.50,354.18 1257.00,354.74 1258.50,353.85 1260.00,354.23 1261.50,353.61 1263.00,352.97 1264.50,351.90 1266.00,350.88 1267.55,352.22 1269.09,352.99 1270.64,353.73 1272.18,352.86 1273.73,353.20 1275.27,355.10 1276.82,355.09 1278.36,355.05 1279.91,355.93 1281.45,355.30 1283.00,356.43 1284.55,357.08 1286.09,357.38 1287.64,357.01 1289.18,357.39 1290.73,358.69 1292.27,359.58 1293.82,358.66 1295.36,358.84 1296.91,359.40 1298.45,361.09 1300.00,360.80 1301.55,361.19 1303.09,362.43 1304.64,362.02 1306.18,361.66 1307.73,362.73 1309.27,361.74 1310.82,362.52 1312.36,363.54 1313.91,362.86 1315.45,362.89 1317.00,364.03 1318.67,362.69 1320.33,362.85 1322.00,360.28 1323.50,363.04 1325.00,364.00" fill="none" stroke="#6fadd3" stroke-width="1.5" stroke-linejoin="round" />
<text x="0.2" y="677.6" font-size="23" text-anchor="start" font-weight="bold" fill="#141414" >C</text>
<line x1="83.40" y1="679.00" x2="83.40" y2="1103.80" stroke="#141414" stroke-width="2.5" />
<line x1="73.80" y1="1102.80" x2="383.30" y2="1102.80" stroke="#141414" stroke-width="2.5" />
<line x1="74.30" y1="1102.80" x2="83.40" y2="1102.80" stroke="#141414" stroke-width="2.2" />
<text x="71.5" y="1112.7" font-size="21.3" text-anchor="end" font-weight="normal" fill="#141414" >0</text>
<line x1="74.30" y1="1018.24" x2="83.40" y2="1018.24" stroke="#141414" stroke-width="2.2" />
<text x="71.5" y="1028.1" font-size="21.3" text-anchor="end" font-weight="normal" fill="#141414" >20</text>
<line x1="74.30" y1="933.68" x2="83.40" y2="933.68" stroke="#141414" stroke-width="2.2" />
<text x="71.5" y="943.6" font-size="21.3" text-anchor="end" font-weight="normal" fill="#141414" >40</text>
<line x1="74.30" y1="849.12" x2="83.40" y2="849.12" stroke="#141414" stroke-width="2.2" />
<text x="71.5" y="859.0" font-size="21.3" text-anchor="end" font-weight="normal" fill="#141414" >60</text>
<line x1="74.30" y1="764.56" x2="83.40" y2="764.56" stroke="#141414" stroke-width="2.2" />
<text x="71.5" y="774.5" font-size="21.3" text-anchor="end" font-weight="normal" fill="#141414" >80</text>
<line x1="74.30" y1="680.00" x2="83.40" y2="680.00" stroke="#141414" stroke-width="2.2" />
<text x="71.5" y="689.9" font-size="21.3" text-anchor="end" font-weight="normal" fill="#141414" >100</text>
<line x1="153.00" y1="1102.80" x2="153.00" y2="1114.20" stroke="#141414" stroke-width="2.5" />
<line x1="325.80" y1="1102.80" x2="325.80" y2="1114.20" stroke="#141414" stroke-width="2.5" />
<rect x="105.50" y="847.50" width="39.30" height="255.30" fill="#0b4063"/>
<line x1="125.10" y1="807.20" x2="125.10" y2="847.50" stroke="#2b5677" stroke-width="2" />
<line x1="120.60" y1="807.20" x2="129.60" y2="807.20" stroke="#2b5677" stroke-width="2" />
<rect x="165.50" y="806.40" width="39.30" height="296.40" fill="#6aa6cb"/>
<line x1="185.10" y1="777.00" x2="185.10" y2="806.40" stroke="#6a9fc0" stroke-width="2" />
<line x1="180.60" y1="777.00" x2="189.60" y2="777.00" stroke="#6a9fc0" stroke-width="2" />
<rect x="274.20" y="718.30" width="39.30" height="384.50" fill="#8c8c8c"/>
<line x1="293.80" y1="689.90" x2="293.80" y2="718.30" stroke="#7a7a7a" stroke-width="2" />
<line x1="289.30" y1="689.90" x2="298.30" y2="689.90" stroke="#7a7a7a" stroke-width="2" />
<rect x="334.40" y="704.20" width="39.30" height="398.60" fill="#c6c6c6"/>
<line x1="354.00" y1="688.10" x2="354.00" y2="704.20" stroke="#bdbdbd" stroke-width="2" />
<line x1="349.50" y1="688.10" x2="358.50" y2="688.10" stroke="#bdbdbd" stroke-width="2" />
<text x="142.8" y="1139.8" font-size="21.3" text-anchor="start" font-weight="normal" fill="#141414" >1X</text>
<text x="314.0" y="1139.8" font-size="21.3" text-anchor="start" font-weight="normal" fill="#141414" >4X</text>
<text x="191.6" y="1158.0" font-size="21.3" text-anchor="start" font-weight="normal" fill="#141414" >1 μM Ca<tspan font-size="11.5" dy="-8">2+</tspan><tspan dy="8"></tspan></text>
<text x="40.0" y="876.0" font-size="21.3" text-anchor="middle" font-weight="normal" fill="#141414" transform="rotate(-90 40 876)">Available wells (%)</text>
<rect x="390.60" y="709.50" width="16.60" height="9.50" fill="#0b4063"/>
<text x="412.6" y="719.5" font-size="21.3" text-anchor="start" font-weight="normal" fill="#141414" >Standard internal 1X</text>
<text x="412.6" y="745.8" font-size="21.3" text-anchor="start" font-weight="normal" fill="#141414" >(n = 8 chips)</text>
<rect x="390.60" y="766.60" width="16.60" height="9.50" fill="#6aa6cb"/>
<text x="412.6" y="776.6" font-size="21.3" text-anchor="start" font-weight="normal" fill="#141414" >Fluoride-free internal 1X</text>
<text x="412.6" y="802.0" font-size="21.3" text-anchor="start" font-weight="normal" fill="#141414" >(n = 9 chips)</text>
<rect x="390.60" y="831.00" width="16.60" height="9.50" fill="#8c8c8c"/>
<text x="412.6" y="841.0" font-size="21.3" text-anchor="start" font-weight="normal" fill="#141414" >Standard internal 4X</text>
<text x="412.6" y="867.0" font-size="21.3" text-anchor="start" font-weight="normal" fill="#141414" >(n = 2 chips)</text>
<rect x="390.60" y="894.50" width="16.60" height="9.50" fill="#c6c6c6"/>
<text x="412.6" y="904.5" font-size="21.3" text-anchor="start" font-weight="normal" fill="#141414" >Fluoride-free internal 4X</text>
<text x="412.6" y="930.2" font-size="21.3" text-anchor="start" font-weight="normal" fill="#141414" >(n = 2 chips)</text>
<text x="662.3" y="678.2" font-size="23" text-anchor="start" font-weight="bold" fill="#141414" >D</text>
<rect x="748.00" y="793.50" width="78.90" height="307.50" fill="#e4e4e4"/>
<rect x="826.90" y="793.50" width="112.60" height="307.50" fill="#dce9f1"/>
<rect x="939.50" y="793.50" width="84.00" height="307.50" fill="#c6dbe8"/>
<rect x="1023.50" y="793.50" width="150.50" height="307.50" fill="#a9cbe0"/>
<rect x="1174.00" y="793.50" width="88.50" height="307.50" fill="#c0c0c0"/>
<line x1="826.90" y1="793.50" x2="826.90" y2="1101.00" stroke="#bdbdbd" stroke-width="2" />
<line x1="939.50" y1="793.50" x2="939.50" y2="1101.00" stroke="#bdbdbd" stroke-width="2" />
<line x1="1023.50" y1="793.50" x2="1023.50" y2="1101.00" stroke="#bdbdbd" stroke-width="2" />
<line x1="1174.00" y1="793.50" x2="1174.00" y2="1101.00" stroke="#bdbdbd" stroke-width="2" />
<line x1="747.60" y1="792.50" x2="747.60" y2="1102.20" stroke="#141414" stroke-width="2.5" />
<line x1="747.60" y1="1101.00" x2="1264.50" y2="1101.00" stroke="#141414" stroke-width="2.5" />
<line x1="739.00" y1="1046.40" x2="747.60" y2="1046.40" stroke="#141414" stroke-width="2.2" />
<text x="735.1" y="1056.3" font-size="21.3" text-anchor="end" font-weight="normal" fill="#141414" >0</text>
<line x1="739.00" y1="984.40" x2="747.60" y2="984.40" stroke="#141414" stroke-width="2.2" />
<text x="735.1" y="994.3" font-size="21.3" text-anchor="end" font-weight="normal" fill="#141414" >2</text>
<line x1="739.00" y1="922.40" x2="747.60" y2="922.40" stroke="#141414" stroke-width="2.2" />
<text x="735.1" y="932.3" font-size="21.3" text-anchor="end" font-weight="normal" fill="#141414" >4</text>
<line x1="739.00" y1="860.40" x2="747.60" y2="860.40" stroke="#141414" stroke-width="2.2" />
<text x="735.1" y="870.3" font-size="21.3" text-anchor="end" font-weight="normal" fill="#141414" >6</text>
<line x1="739.00" y1="798.40" x2="747.60" y2="798.40" stroke="#141414" stroke-width="2.2" />
<text x="735.1" y="808.3" font-size="21.3" text-anchor="end" font-weight="normal" fill="#141414" >8</text>
<line x1="842.16" y1="1101.00" x2="842.16" y2="1110.50" stroke="#141414" stroke-width="2.5" />
<text x="842.2" y="1128.2" font-size="21.3" text-anchor="middle" font-weight="normal" fill="#141414" >200</text>
<line x1="932.42" y1="1101.00" x2="932.42" y2="1110.50" stroke="#141414" stroke-width="2.5" />
<text x="932.4" y="1128.2" font-size="21.3" text-anchor="middle" font-weight="normal" fill="#141414" >400</text>
<line x1="1022.68" y1="1101.00" x2="1022.68" y2="1110.50" stroke="#141414" stroke-width="2.5" />
<text x="1022.7" y="1128.2" font-size="21.3" text-anchor="middle" font-weight="normal" fill="#141414" >600</text>
<line x1="1112.94" y1="1101.00" x2="1112.94" y2="1110.50" stroke="#141414" stroke-width="2.5" />
<text x="1112.9" y="1128.2" font-size="21.3" text-anchor="middle" font-weight="normal" fill="#141414" >800</text>
<line x1="1203.20" y1="1101.00" x2="1203.20" y2="1110.50" stroke="#141414" stroke-width="2.5" />
<text x="1206.2" y="1128.2" font-size="21.3" text-anchor="middle" font-weight="normal" fill="#141414" >1000</text>
<text x="951.6" y="1154.2" font-size="21.3" text-anchor="start" font-weight="normal" fill="#141414" >Time (s)</text>
<text x="707.5" y="942.7" font-size="21.3" text-anchor="middle" font-weight="normal" fill="#141414" transform="rotate(-90 707.5 942.7)">I (nA)</text>
<line x1="761.30" y1="758.50" x2="1166.00" y2="758.50" stroke="#141414" stroke-width="2.5" />
<line x1="761.30" y1="757.30" x2="761.30" y2="769.50" stroke="#141414" stroke-width="2.5" />
<line x1="1166.00" y1="757.30" x2="1166.00" y2="769.50" stroke="#141414" stroke-width="2.5" />
<text x="922.0" y="753.6" font-size="21.3" text-anchor="start" font-weight="normal" fill="#141414" >Internal Ca<tspan font-size="11.5" dy="-8">2+</tspan><tspan dy="8"></tspan></text>
<text x="761.3" y="786.2" font-size="21.3" text-anchor="start" font-weight="normal" fill="#141414" >0 μM</text>
<text x="850.4" y="786.2" font-size="21.3" text-anchor="start" font-weight="normal" fill="#141414" >0.3 μM</text>
<text x="958.7" y="786.2" font-size="21.3" text-anchor="start" font-weight="normal" fill="#141414" >1 μM</text>
<text x="1074.6" y="786.2" font-size="21.3" text-anchor="start" font-weight="normal" fill="#141414" >3 μM</text>
<text x="1176.8" y="761.6" font-size="21.3" text-anchor="start" font-weight="normal" fill="#141414" >External</text>
<text x="1195.7" y="787.0" font-size="21.3" text-anchor="start" font-weight="normal" fill="#141414" >Ba<tspan font-size="11.5" dy="-8">2+</tspan><tspan dy="8"></tspan></text>
<line x1="747.60" y1="1046.40" x2="1262.50" y2="1046.40" stroke="#141414" stroke-width="2.2" stroke-dasharray="6 5"/>
<polyline points="751.30,1049.50 820.00,1049.10 840.10,1050.00 849.50,1053.80 860.20,1054.50 887.00,1053.20 933.90,1055.80 952.70,1059.20 960.70,1069.90 974.10,1084.60 987.50,1090.70 1000.00,1092.70 1100.00,1093.50 1173.40,1093.00 1184.20,1091.00 1184.50,1057.60 1188.60,1055.70 1213.90,1065.80 1258.20,1073.40 1262.00,1074.00" fill="none" stroke="#6ea9d0" stroke-width="5" stroke-linejoin="round" />
<polygon points="751.3,1054.7 746.8,1045.7 755.8,1045.7" fill="#6ea9d0"/>
<polygon points="753.5,1055.4 749.0,1046.4 758.0,1046.4" fill="#6ea9d0"/>
<polygon points="755.7,1054.8 751.2,1045.8 760.2,1045.8" fill="#6ea9d0"/>
<polygon points="757.9,1055.1 753.4,1046.1 762.4,1046.1" fill="#6ea9d0"/>
<polygon points="760.1,1054.6 755.6,1045.6 764.6,1045.6" fill="#6ea9d0"/>
<polygon points="762.3,1054.4 757.8,1045.4 766.8,1045.4" fill="#6ea9d0"/>
<polygon points="764.5,1054.7 760.0,1045.7 769.0,1045.7" fill="#6ea9d0"/>
<polygon points="766.7,1055.3 762.2,1046.3 771.2,1046.3" fill="#6ea9d0"/>
<polygon points="768.9,1054.6 764.4,1045.6 773.4,1045.6" fill="#6ea9d0"/>
<polygon points="771.1,1054.4 766.6,1045.4 775.6,1045.4" fill="#6ea9d0"/>
<polygon points="773.3,1054.6 768.8,1045.6 777.8,1045.6" fill="#6ea9d0"/>
<polygon points="775.5,1054.1 771.0,1045.1 780.0,1045.1" fill="#6ea9d0"/>
<polygon points="777.7,1054.5 773.2,1045.5 782.2,1045.5" fill="#6ea9d0"/>
<polygon points="779.9,1054.9 775.4,1045.9 784.4,1045.9" fill="#6ea9d0"/>
<polygon points="782.1,1054.8 777.6,1045.8 786.6,1045.8" fill="#6ea9d0"/>
<polygon points="784.3,1054.9 779.8,1045.9 788.8,1045.9" fill="#6ea9d0"/>
<polygon points="786.5,1054.4 782.0,1045.4 791.0,1045.4" fill="#6ea9d0"/>
<polygon points="788.7,1053.9 784.2,1044.9 793.2,1044.9" fill="#6ea9d0"/>
<polygon points="790.9,1053.9 786.4,1044.9 795.4,1044.9" fill="#6ea9d0"/>
<polygon points="793.1,1054.4 788.6,1045.4 797.6,1045.4" fill="#6ea9d0"/>
<polygon points="795.3,1054.2 790.8,1045.2 799.8,1045.2" fill="#6ea9d0"/>
<polygon points="797.5,1054.7 793.0,1045.7 802.0,1045.7" fill="#6ea9d0"/>
<polygon points="799.7,1054.2 795.2,1045.2 804.2,1045.2" fill="#6ea9d0"/>
<polygon points="801.9,1055.0 797.4,1046.0 806.4,1046.0" fill="#6ea9d0"/>
<polygon points="804.1,1054.8 799.6,1045.8 808.6,1045.8" fill="#6ea9d0"/>
<polygon points="806.3,1054.8 801.8,1045.8 810.8,1045.8" fill="#6ea9d0"/>
<polygon points="808.5,1054.9 804.0,1045.9 813.0,1045.9" fill="#6ea9d0"/>
<polygon points="810.7,1054.6 806.2,1045.6 815.2,1045.6" fill="#6ea9d0"/>
<polygon points="812.9,1054.4 808.4,1045.4 817.4,1045.4" fill="#6ea9d0"/>
<polygon points="815.1,1054.2 810.6,1045.2 819.6,1045.2" fill="#6ea9d0"/>
<polygon points="817.3,1053.8 812.8,1044.8 821.8,1044.8" fill="#6ea9d0"/>
<polygon points="819.5,1055.0 815.0,1046.0 824.0,1046.0" fill="#6ea9d0"/>
<polygon points="821.7,1054.6 817.2,1045.6 826.2,1045.6" fill="#6ea9d0"/>
<polygon points="823.9,1054.0 819.4,1045.0 828.4,1045.0" fill="#6ea9d0"/>
<polygon points="826.1,1055.5 821.6,1046.5 830.6,1046.5" fill="#6ea9d0"/>
<polygon points="828.3,1055.0 823.8,1046.0 832.8,1046.0" fill="#6ea9d0"/>
<polygon points="830.5,1055.2 826.0,1046.2 835.0,1046.2" fill="#6ea9d0"/>
<polygon points="832.7,1055.0 828.2,1046.0 837.2,1046.0" fill="#6ea9d0"/>
<polygon points="834.9,1054.6 830.4,1045.6 839.4,1045.6" fill="#6ea9d0"/>
<polygon points="837.1,1056.1 832.6,1047.1 841.6,1047.1" fill="#6ea9d0"/>
<polygon points="839.3,1054.8 834.8,1045.8 843.8,1045.8" fill="#6ea9d0"/>
<polygon points="841.5,1055.8 837.0,1046.8 846.0,1046.8" fill="#6ea9d0"/>
<polygon points="843.7,1057.7 839.2,1048.7 848.2,1048.7" fill="#6ea9d0"/>
<polygon points="845.9,1057.1 841.4,1048.1 850.4,1048.1" fill="#6ea9d0"/>
<polygon points="848.1,1058.6 843.6,1049.6 852.6,1049.6" fill="#6ea9d0"/>
<polygon points="850.3,1059.2 845.8,1050.2 854.8,1050.2" fill="#6ea9d0"/>
<polygon points="852.5,1059.0 848.0,1050.0 857.0,1050.0" fill="#6ea9d0"/>
<polygon points="854.7,1060.2 850.2,1051.2 859.2,1051.2" fill="#6ea9d0"/>
<polygon points="856.9,1059.5 852.4,1050.5 861.4,1050.5" fill="#6ea9d0"/>
<polygon points="859.1,1059.0 854.6,1050.0 863.6,1050.0" fill="#6ea9d0"/>
<polygon points="861.3,1059.8 856.8,1050.8 865.8,1050.8" fill="#6ea9d0"/>
<polygon points="863.5,1058.9 859.0,1049.9 868.0,1049.9" fill="#6ea9d0"/>
<polygon points="865.7,1060.0 861.2,1051.0 870.2,1051.0" fill="#6ea9d0"/>
<polygon points="867.9,1060.1 863.4,1051.1 872.4,1051.1" fill="#6ea9d0"/>
<polygon points="870.1,1060.1 865.6,1051.1 874.6,1051.1" fill="#6ea9d0"/>
<polygon points="872.3,1058.6 867.8,1049.6 876.8,1049.6" fill="#6ea9d0"/>
<polygon points="874.5,1059.5 870.0,1050.5 879.0,1050.5" fill="#6ea9d0"/>
<polygon points="876.7,1058.8 872.2,1049.8 881.2,1049.8" fill="#6ea9d0"/>
<polygon points="878.9,1058.9 874.4,1049.9 883.4,1049.9" fill="#6ea9d0"/>
<polygon points="881.1,1058.6 876.6,1049.6 885.6,1049.6" fill="#6ea9d0"/>
<polygon points="883.3,1058.5 878.8,1049.5 887.8,1049.5" fill="#6ea9d0"/>
<polygon points="885.5,1058.1 881.0,1049.1 890.0,1049.1" fill="#6ea9d0"/>
<polygon points="887.7,1058.8 883.2,1049.8 892.2,1049.8" fill="#6ea9d0"/>
<polygon points="889.9,1058.1 885.4,1049.1 894.4,1049.1" fill="#6ea9d0"/>
<polygon points="892.1,1059.6 887.6,1050.6 896.6,1050.6" fill="#6ea9d0"/>
<polygon points="894.3,1058.3 889.8,1049.3 898.8,1049.3" fill="#6ea9d0"/>
<polygon points="896.5,1059.9 892.0,1050.9 901.0,1050.9" fill="#6ea9d0"/>
<polygon points="898.7,1058.8 894.2,1049.8 903.2,1049.8" fill="#6ea9d0"/>
<polygon points="900.9,1058.7 896.4,1049.7 905.4,1049.7" fill="#6ea9d0"/>
<polygon points="903.1,1059.9 898.6,1050.9 907.6,1050.9" fill="#6ea9d0"/>
<polygon points="905.3,1059.7 900.8,1050.7 909.8,1050.7" fill="#6ea9d0"/>
<polygon points="907.5,1060.2 903.0,1051.2 912.0,1051.2" fill="#6ea9d0"/>
<polygon points="909.7,1059.9 905.2,1050.9 914.2,1050.9" fill="#6ea9d0"/>
<polygon points="911.9,1060.2 907.4,1051.2 916.4,1051.2" fill="#6ea9d0"/>
<polygon points="914.1,1059.4 909.6,1050.4 918.6,1050.4" fill="#6ea9d0"/>
<polygon points="916.3,1060.5 911.8,1051.5 920.8,1051.5" fill="#6ea9d0"/>
<polygon points="918.5,1060.4 914.0,1051.4 923.0,1051.4" fill="#6ea9d0"/>
<polygon points="920.7,1061.2 916.2,1052.2 925.2,1052.2" fill="#6ea9d0"/>
<polygon points="922.9,1059.8 918.4,1050.8 927.4,1050.8" fill="#6ea9d0"/>
<polygon points="925.1,1060.0 920.6,1051.0 929.6,1051.0" fill="#6ea9d0"/>
<polygon points="927.3,1061.1 922.8,1052.1 931.8,1052.1" fill="#6ea9d0"/>
<polygon points="929.5,1061.6 925.0,1052.6 934.0,1052.6" fill="#6ea9d0"/>
<polygon points="931.7,1061.0 927.2,1052.0 936.2,1052.0" fill="#6ea9d0"/>
<polygon points="933.9,1061.5 929.4,1052.5 938.4,1052.5" fill="#6ea9d0"/>
<polygon points="936.1,1061.7 931.6,1052.7 940.6,1052.7" fill="#6ea9d0"/>
<polygon points="938.3,1061.8 933.8,1052.8 942.8,1052.8" fill="#6ea9d0"/>
<polygon points="940.5,1062.3 936.0,1053.3 945.0,1053.3" fill="#6ea9d0"/>
<polygon points="942.7,1063.0 938.2,1054.0 947.2,1054.0" fill="#6ea9d0"/>
<polygon points="944.9,1062.4 940.4,1053.4 949.4,1053.4" fill="#6ea9d0"/>
<polygon points="947.1,1063.3 942.6,1054.3 951.6,1054.3" fill="#6ea9d0"/>
<polygon points="949.3,1064.4 944.8,1055.4 953.8,1055.4" fill="#6ea9d0"/>
<polygon points="951.5,1064.0 947.0,1055.0 956.0,1055.0" fill="#6ea9d0"/>
<polygon points="953.7,1065.9 949.2,1056.9 958.2,1056.9" fill="#6ea9d0"/>
<polygon points="955.9,1068.5 951.4,1059.5 960.4,1059.5" fill="#6ea9d0"/>
<polygon points="958.1,1071.6 953.6,1062.6 962.6,1062.6" fill="#6ea9d0"/>
<polygon points="960.3,1075.0 955.8,1066.0 964.8,1066.0" fill="#6ea9d0"/>
<polygon points="962.5,1077.7 958.0,1068.7 967.0,1068.7" fill="#6ea9d0"/>
<polygon points="964.7,1080.4 960.2,1071.4 969.2,1071.4" fill="#6ea9d0"/>
<polygon points="966.9,1082.1 962.4,1073.1 971.4,1073.1" fill="#6ea9d0"/>
<polygon points="969.1,1084.0 964.6,1075.0 973.6,1075.0" fill="#6ea9d0"/>
<polygon points="971.3,1086.7 966.8,1077.7 975.8,1077.7" fill="#6ea9d0"/>
<polygon points="973.5,1088.6 969.0,1079.6 978.0,1079.6" fill="#6ea9d0"/>
<polygon points="975.7,1090.3 971.2,1081.3 980.2,1081.3" fill="#6ea9d0"/>
<polygon points="977.9,1091.9 973.4,1082.9 982.4,1082.9" fill="#6ea9d0"/>
<polygon points="980.1,1092.9 975.6,1083.9 984.6,1083.9" fill="#6ea9d0"/>
<polygon points="982.3,1093.3 977.8,1084.3 986.8,1084.3" fill="#6ea9d0"/>
<polygon points="984.5,1094.2 980.0,1085.2 989.0,1085.2" fill="#6ea9d0"/>
<polygon points="986.7,1095.1 982.2,1086.1 991.2,1086.1" fill="#6ea9d0"/>
<polygon points="988.9,1095.8 984.4,1086.8 993.4,1086.8" fill="#6ea9d0"/>
<polygon points="991.1,1096.7 986.6,1087.7 995.6,1087.7" fill="#6ea9d0"/>
<polygon points="993.3,1096.6 988.8,1087.6 997.8,1087.6" fill="#6ea9d0"/>
<polygon points="995.5,1098.0 991.0,1089.0 1000.0,1089.0" fill="#6ea9d0"/>
<polygon points="997.7,1097.8 993.2,1088.8 1002.2,1088.8" fill="#6ea9d0"/>
<polygon points="999.9,1097.8 995.4,1088.8 1004.4,1088.8" fill="#6ea9d0"/>
<polygon points="1002.1,1098.0 997.6,1089.0 1006.6,1089.0" fill="#6ea9d0"/>
<polygon points="1004.3,1097.4 999.8,1088.4 1008.8,1088.4" fill="#6ea9d0"/>
<polygon points="1006.5,1098.5 1002.0,1089.5 1011.0,1089.5" fill="#6ea9d0"/>
<polygon points="1008.7,1098.6 1004.2,1089.6 1013.2,1089.6" fill="#6ea9d0"/>
<polygon points="1010.9,1098.0 1006.4,1089.0 1015.4,1089.0" fill="#6ea9d0"/>
<polygon points="1013.1,1098.6 1008.6,1089.6 1017.6,1089.6" fill="#6ea9d0"/>
<polygon points="1015.3,1097.9 1010.8,1088.9 1019.8,1088.9" fill="#6ea9d0"/>
<polygon points="1017.5,1097.8 1013.0,1088.8 1022.0,1088.8" fill="#6ea9d0"/>
<polygon points="1019.7,1097.8 1015.2,1088.8 1024.2,1088.8" fill="#6ea9d0"/>
<polygon points="1021.9,1097.8 1017.4,1088.8 1026.4,1088.8" fill="#6ea9d0"/>
<polygon points="1024.1,1098.5 1019.6,1089.5 1028.6,1089.5" fill="#6ea9d0"/>
<polygon points="1026.3,1098.5 1021.8,1089.5 1030.8,1089.5" fill="#6ea9d0"/>
<polygon points="1028.5,1098.7 1024.0,1089.7 1033.0,1089.7" fill="#6ea9d0"/>
<polygon points="1030.7,1097.7 1026.2,1088.7 1035.2,1088.7" fill="#6ea9d0"/>
<polygon points="1032.9,1098.8 1028.4,1089.8 1037.4,1089.8" fill="#6ea9d0"/>
<polygon points="1035.1,1098.3 1030.6,1089.3 1039.6,1089.3" fill="#6ea9d0"/>
<polygon points="1037.3,1098.2 1032.8,1089.2 1041.8,1089.2" fill="#6ea9d0"/>
<polygon points="1039.5,1098.4 1035.0,1089.4 1044.0,1089.4" fill="#6ea9d0"/>
<polygon points="1041.7,1098.3 1037.2,1089.3 1046.2,1089.3" fill="#6ea9d0"/>
<polygon points="1043.9,1098.0 1039.4,1089.0 1048.4,1089.0" fill="#6ea9d0"/>
<polygon points="1046.1,1098.3 1041.6,1089.3 1050.6,1089.3" fill="#6ea9d0"/>
<polygon points="1048.3,1098.7 1043.8,1089.7 1052.8,1089.7" fill="#6ea9d0"/>
<polygon points="1050.5,1098.8 1046.0,1089.8 1055.0,1089.8" fill="#6ea9d0"/>
<polygon points="1052.7,1099.2 1048.2,1090.2 1057.2,1090.2" fill="#6ea9d0"/>
<polygon points="1054.9,1098.1 1050.4,1089.1 1059.4,1089.1" fill="#6ea9d0"/>
<polygon points="1057.1,1099.2 1052.6,1090.2 1061.6,1090.2" fill="#6ea9d0"/>
<polygon points="1059.3,1099.1 1054.8,1090.1 1063.8,1090.1" fill="#6ea9d0"/>
<polygon points="1061.5,1098.9 1057.0,1089.9 1066.0,1089.9" fill="#6ea9d0"/>
<polygon points="1063.7,1099.4 1059.2,1090.4 1068.2,1090.4" fill="#6ea9d0"/>
<polygon points="1065.9,1098.0 1061.4,1089.0 1070.4,1089.0" fill="#6ea9d0"/>
<polygon points="1068.1,1099.1 1063.6,1090.1 1072.6,1090.1" fill="#6ea9d0"/>
<polygon points="1070.3,1099.3 1065.8,1090.3 1074.8,1090.3" fill="#6ea9d0"/>
<polygon points="1072.5,1098.1 1068.0,1089.1 1077.0,1089.1" fill="#6ea9d0"/>
<polygon points="1074.7,1098.8 1070.2,1089.8 1079.2,1089.8" fill="#6ea9d0"/>
<polygon points="1076.9,1099.4 1072.4,1090.4 1081.4,1090.4" fill="#6ea9d0"/>
<polygon points="1079.1,1098.4 1074.6,1089.4 1083.6,1089.4" fill="#6ea9d0"/>
<polygon points="1081.3,1099.3 1076.8,1090.3 1085.8,1090.3" fill="#6ea9d0"/>
<polygon points="1083.5,1099.4 1079.0,1090.4 1088.0,1090.4" fill="#6ea9d0"/>
<polygon points="1085.7,1098.7 1081.2,1089.7 1090.2,1089.7" fill="#6ea9d0"/>
<polygon points="1087.9,1098.2 1083.4,1089.2 1092.4,1089.2" fill="#6ea9d0"/>
<polygon points="1090.1,1098.4 1085.6,1089.4 1094.6,1089.4" fill="#6ea9d0"/>
<polygon points="1092.3,1099.4 1087.8,1090.4 1096.8,1090.4" fill="#6ea9d0"/>
<polygon points="1094.5,1098.7 1090.0,1089.7 1099.0,1089.7" fill="#6ea9d0"/>
<polygon points="1096.7,1098.6 1092.2,1089.6 1101.2,1089.6" fill="#6ea9d0"/>
<polygon points="1098.9,1098.8 1094.4,1089.8 1103.4,1089.8" fill="#6ea9d0"/>
<polygon points="1101.1,1099.6 1096.6,1090.6 1105.6,1090.6" fill="#6ea9d0"/>
<polygon points="1103.3,1098.5 1098.8,1089.5 1107.8,1089.5" fill="#6ea9d0"/>
<polygon points="1105.5,1098.1 1101.0,1089.1 1110.0,1089.1" fill="#6ea9d0"/>
<polygon points="1107.7,1099.6 1103.2,1090.6 1112.2,1090.6" fill="#6ea9d0"/>
<polygon points="1109.9,1098.5 1105.4,1089.5 1114.4,1089.5" fill="#6ea9d0"/>
<polygon points="1112.1,1098.6 1107.6,1089.6 1116.6,1089.6" fill="#6ea9d0"/>
<polygon points="1114.3,1099.6 1109.8,1090.6 1118.8,1090.6" fill="#6ea9d0"/>
<polygon points="1116.5,1098.4 1112.0,1089.4 1121.0,1089.4" fill="#6ea9d0"/>
<polygon points="1118.7,1098.1 1114.2,1089.1 1123.2,1089.1" fill="#6ea9d0"/>
<polygon points="1120.9,1099.4 1116.4,1090.4 1125.4,1090.4" fill="#6ea9d0"/>
<polygon points="1123.1,1098.3 1118.6,1089.3 1127.6,1089.3" fill="#6ea9d0"/>
<polygon points="1125.3,1098.3 1120.8,1089.3 1129.8,1089.3" fill="#6ea9d0"/>
<polygon points="1127.5,1099.4 1123.0,1090.4 1132.0,1090.4" fill="#6ea9d0"/>
<polygon points="1129.7,1098.3 1125.2,1089.3 1134.2,1089.3" fill="#6ea9d0"/>
<polygon points="1131.9,1099.3 1127.4,1090.3 1136.4,1090.3" fill="#6ea9d0"/>
<polygon points="1134.1,1098.4 1129.6,1089.4 1138.6,1089.4" fill="#6ea9d0"/>
<polygon points="1136.3,1098.3 1131.8,1089.3 1140.8,1089.3" fill="#6ea9d0"/>
<polygon points="1138.5,1098.2 1134.0,1089.2 1143.0,1089.2" fill="#6ea9d0"/>
<polygon points="1140.7,1098.7 1136.2,1089.7 1145.2,1089.7" fill="#6ea9d0"/>
<polygon points="1142.9,1098.7 1138.4,1089.7 1147.4,1089.7" fill="#6ea9d0"/>
<polygon points="1145.1,1098.4 1140.6,1089.4 1149.6,1089.4" fill="#6ea9d0"/>
<polygon points="1147.3,1098.6 1142.8,1089.6 1151.8,1089.6" fill="#6ea9d0"/>
<polygon points="1149.5,1098.2 1145.0,1089.2 1154.0,1089.2" fill="#6ea9d0"/>
<polygon points="1151.7,1099.1 1147.2,1090.1 1156.2,1090.1" fill="#6ea9d0"/>
<polygon points="1153.9,1099.2 1149.4,1090.2 1158.4,1090.2" fill="#6ea9d0"/>
<polygon points="1156.1,1098.9 1151.6,1089.9 1160.6,1089.9" fill="#6ea9d0"/>
<polygon points="1158.3,1099.0 1153.8,1090.0 1162.8,1090.0" fill="#6ea9d0"/>
<polygon points="1160.5,1097.8 1156.0,1088.8 1165.0,1088.8" fill="#6ea9d0"/>
<polygon points="1162.7,1098.1 1158.2,1089.1 1167.2,1089.1" fill="#6ea9d0"/>
<polygon points="1164.9,1098.0 1160.4,1089.0 1169.4,1089.0" fill="#6ea9d0"/>
<polygon points="1167.1,1097.9 1162.6,1088.9 1171.6,1088.9" fill="#6ea9d0"/>
<polygon points="1169.3,1099.2 1164.8,1090.2 1173.8,1090.2" fill="#6ea9d0"/>
<polygon points="1171.5,1099.1 1167.0,1090.1 1176.0,1090.1" fill="#6ea9d0"/>
<polygon points="1173.7,1099.0 1169.2,1090.0 1178.2,1090.0" fill="#6ea9d0"/>
<polygon points="1175.9,1098.0 1171.4,1089.0 1180.4,1089.0" fill="#6ea9d0"/>
<polygon points="1178.1,1096.9 1173.6,1087.9 1182.6,1087.9" fill="#6ea9d0"/>
<polygon points="1180.3,1097.0 1175.8,1088.0 1184.8,1088.0" fill="#6ea9d0"/>
<polygon points="1182.5,1096.0 1178.0,1087.0 1187.0,1087.0" fill="#6ea9d0"/>
<polygon points="1186.9,1074.4 1182.4,1065.4 1191.4,1065.4" fill="#6ea9d0"/>
<polygon points="1189.1,1061.0 1184.6,1052.0 1193.6,1052.0" fill="#6ea9d0"/>
<polygon points="1191.3,1062.9 1186.8,1053.9 1195.8,1053.9" fill="#6ea9d0"/>
<polygon points="1193.5,1062.6 1189.0,1053.6 1198.0,1053.6" fill="#6ea9d0"/>
<polygon points="1195.7,1064.6 1191.2,1055.6 1200.2,1055.6" fill="#6ea9d0"/>
<polygon points="1197.9,1064.5 1193.4,1055.5 1202.4,1055.5" fill="#6ea9d0"/>
<polygon points="1200.1,1066.0 1195.6,1057.0 1204.6,1057.0" fill="#6ea9d0"/>
<polygon points="1202.3,1065.9 1197.8,1056.9 1206.8,1056.9" fill="#6ea9d0"/>
<polygon points="1204.5,1068.1 1200.0,1059.1 1209.0,1059.1" fill="#6ea9d0"/>
<polygon points="1206.7,1068.2 1202.2,1059.2 1211.2,1059.2" fill="#6ea9d0"/>
<polygon points="1208.9,1069.0 1204.4,1060.0 1213.4,1060.0" fill="#6ea9d0"/>
<polygon points="1211.1,1070.3 1206.6,1061.3 1215.6,1061.3" fill="#6ea9d0"/>
<polygon points="1213.3,1071.1 1208.8,1062.1 1217.8,1062.1" fill="#6ea9d0"/>
<polygon points="1215.5,1071.1 1211.0,1062.1 1220.0,1062.1" fill="#6ea9d0"/>
<polygon points="1217.7,1071.3 1213.2,1062.3 1222.2,1062.3" fill="#6ea9d0"/>
<polygon points="1219.9,1072.4 1215.4,1063.4 1224.4,1063.4" fill="#6ea9d0"/>
<polygon points="1222.1,1071.8 1217.6,1062.8 1226.6,1062.8" fill="#6ea9d0"/>
<polygon points="1224.3,1073.6 1219.8,1064.6 1228.8,1064.6" fill="#6ea9d0"/>
<polygon points="1226.5,1073.1 1222.0,1064.1 1231.0,1064.1" fill="#6ea9d0"/>
<polygon points="1228.7,1073.2 1224.2,1064.2 1233.2,1064.2" fill="#6ea9d0"/>
<polygon points="1230.9,1073.8 1226.4,1064.8 1235.4,1064.8" fill="#6ea9d0"/>
<polygon points="1233.1,1073.9 1228.6,1064.9 1237.6,1064.9" fill="#6ea9d0"/>
<polygon points="1235.3,1074.6 1230.8,1065.6 1239.8,1065.6" fill="#6ea9d0"/>
<polygon points="1237.5,1075.3 1233.0,1066.3 1242.0,1066.3" fill="#6ea9d0"/>
<polygon points="1239.7,1075.5 1235.2,1066.5 1244.2,1066.5" fill="#6ea9d0"/>
<polygon points="1241.9,1075.7 1237.4,1066.7 1246.4,1066.7" fill="#6ea9d0"/>
<polygon points="1244.1,1076.0 1239.6,1067.0 1248.6,1067.0" fill="#6ea9d0"/>
<polygon points="1246.3,1076.7 1241.8,1067.7 1250.8,1067.7" fill="#6ea9d0"/>
<polygon points="1248.5,1077.6 1244.0,1068.6 1253.0,1068.6" fill="#6ea9d0"/>
<polygon points="1250.7,1077.4 1246.2,1068.4 1255.2,1068.4" fill="#6ea9d0"/>
<polygon points="1252.9,1078.3 1248.4,1069.3 1257.4,1069.3" fill="#6ea9d0"/>
<polygon points="1255.1,1078.2 1250.6,1069.2 1259.6,1069.2" fill="#6ea9d0"/>
<polygon points="1257.3,1078.0 1252.8,1069.0 1261.8,1069.0" fill="#6ea9d0"/>
<polygon points="1259.5,1078.5 1255.0,1069.5 1264.0,1069.5" fill="#6ea9d0"/>
<polygon points="1261.7,1079.9 1257.2,1070.9 1266.2,1070.9" fill="#6ea9d0"/>
<polyline points="751.30,1042.00 800.00,1042.50 825.40,1042.00 833.40,1039.10 841.40,1032.40 846.80,1020.30 850.80,1004.20 854.80,994.20 864.20,992.20 870.90,991.50 877.60,996.90 889.70,998.90 899.10,997.50 905.80,990.80 916.50,988.10 927.20,980.10 935.30,973.40 939.30,966.70 947.00,961.00 952.10,955.20 954.10,937.80 956.10,916.30 958.10,897.60 960.10,881.50 962.80,865.40 964.80,858.70 968.10,846.70 972.20,834.60 977.50,823.90 986.90,820.50 1000.30,819.80 1021.80,820.50" fill="none" stroke="#0b4063" stroke-width="2.6" stroke-linejoin="round" />
<polygon points="751.3,1036.6 746.3,1045.6 756.3,1045.6" fill="#0b4063"/>
<polygon points="753.8,1036.4 748.8,1045.4 758.8,1045.4" fill="#0b4063"/>
<polygon points="756.3,1036.7 751.3,1045.7 761.3,1045.7" fill="#0b4063"/>
<polygon points="758.8,1037.3 753.8,1046.3 763.8,1046.3" fill="#0b4063"/>
<polygon points="761.3,1036.5 756.3,1045.5 766.3,1045.5" fill="#0b4063"/>
<polygon points="763.8,1036.5 758.8,1045.5 768.8,1045.5" fill="#0b4063"/>
<polygon points="766.3,1036.5 761.3,1045.5 771.3,1045.5" fill="#0b4063"/>
<polygon points="768.8,1035.9 763.8,1044.9 773.8,1044.9" fill="#0b4063"/>
<polygon points="771.3,1036.9 766.3,1045.9 776.3,1045.9" fill="#0b4063"/>
<polygon points="773.8,1036.8 768.8,1045.8 778.8,1045.8" fill="#0b4063"/>
<polygon points="776.3,1036.8 771.3,1045.8 781.3,1045.8" fill="#0b4063"/>
<polygon points="778.8,1036.8 773.8,1045.8 783.8,1045.8" fill="#0b4063"/>
<polygon points="781.3,1036.9 776.3,1045.9 786.3,1045.9" fill="#0b4063"/>
<polygon points="783.8,1037.3 778.8,1046.3 788.8,1046.3" fill="#0b4063"/>
<polygon points="786.3,1036.4 781.3,1045.4 791.3,1045.4" fill="#0b4063"/>
<polygon points="788.8,1037.9 783.8,1046.9 793.8,1046.9" fill="#0b4063"/>
<polygon points="791.3,1036.3 786.3,1045.3 796.3,1045.3" fill="#0b4063"/>
<polygon points="793.8,1037.7 788.8,1046.7 798.8,1046.7" fill="#0b4063"/>
<polygon points="796.3,1036.5 791.3,1045.5 801.3,1045.5" fill="#0b4063"/>
<polygon points="798.8,1037.6 793.8,1046.6 803.8,1046.6" fill="#0b4063"/>
<polygon points="801.3,1036.6 796.3,1045.6 806.3,1045.6" fill="#0b4063"/>
<polygon points="803.8,1036.3 798.8,1045.3 808.8,1045.3" fill="#0b4063"/>
<polygon points="806.3,1037.0 801.3,1046.0 811.3,1046.0" fill="#0b4063"/>
<polygon points="808.8,1037.5 803.8,1046.5 813.8,1046.5" fill="#0b4063"/>
<polygon points="811.3,1037.5 806.3,1046.5 816.3,1046.5" fill="#0b4063"/>
<polygon points="813.8,1037.5 808.8,1046.5 818.8,1046.5" fill="#0b4063"/>
<polygon points="816.3,1037.6 811.3,1046.6 821.3,1046.6" fill="#0b4063"/>
<polygon points="818.8,1035.9 813.8,1044.9 823.8,1044.9" fill="#0b4063"/>
<polygon points="821.3,1036.5 816.3,1045.5 826.3,1045.5" fill="#0b4063"/>
<polygon points="823.8,1035.9 818.8,1044.9 828.8,1044.9" fill="#0b4063"/>
<polygon points="826.3,1036.7 821.3,1045.7 831.3,1045.7" fill="#0b4063"/>
<polygon points="828.8,1035.3 823.8,1044.3 833.8,1044.3" fill="#0b4063"/>
<polygon points="831.3,1034.9 826.3,1043.9 836.3,1043.9" fill="#0b4063"/>
<polygon points="833.8,1033.9 828.8,1042.9 838.8,1042.9" fill="#0b4063"/>
<polygon points="836.3,1032.2 831.3,1041.2 841.3,1041.2" fill="#0b4063"/>
<polygon points="838.8,1029.5 833.8,1038.5 843.8,1038.5" fill="#0b4063"/>
<polygon points="841.3,1027.8 836.3,1036.8 846.3,1036.8" fill="#0b4063"/>
<polygon points="843.8,1021.7 838.8,1030.7 848.8,1030.7" fill="#0b4063"/>
<polygon points="846.3,1015.3 841.3,1024.3 851.3,1024.3" fill="#0b4063"/>
<polygon points="848.8,1007.6 843.8,1016.6 853.8,1016.6" fill="#0b4063"/>
<polygon points="851.3,996.8 846.3,1005.8 856.3,1005.8" fill="#0b4063"/>
<polygon points="853.8,990.6 848.8,999.6 858.8,999.6" fill="#0b4063"/>
<polygon points="856.3,989.1 851.3,998.1 861.3,998.1" fill="#0b4063"/>
<polygon points="858.8,987.6 853.8,996.6 863.8,996.6" fill="#0b4063"/>
<polygon points="861.3,987.7 856.3,996.7 866.3,996.7" fill="#0b4063"/>
<polygon points="863.8,986.0 858.8,995.0 868.8,995.0" fill="#0b4063"/>
<polygon points="866.3,986.1 861.3,995.1 871.3,995.1" fill="#0b4063"/>
<polygon points="868.8,986.7 863.8,995.7 873.8,995.7" fill="#0b4063"/>
<polygon points="871.3,985.6 866.3,994.6 876.3,994.6" fill="#0b4063"/>
<polygon points="873.8,988.5 868.8,997.5 878.8,997.5" fill="#0b4063"/>
<polygon points="876.3,991.2 871.3,1000.2 881.3,1000.2" fill="#0b4063"/>
<polygon points="878.8,991.2 873.8,1000.2 883.8,1000.2" fill="#0b4063"/>
<polygon points="881.3,992.5 876.3,1001.5 886.3,1001.5" fill="#0b4063"/>
<polygon points="883.8,993.0 878.8,1002.0 888.8,1002.0" fill="#0b4063"/>
<polygon points="886.3,993.2 881.3,1002.2 891.3,1002.2" fill="#0b4063"/>
<polygon points="888.8,993.8 883.8,1002.8 893.8,1002.8" fill="#0b4063"/>
<polygon points="891.3,993.6 886.3,1002.6 896.3,1002.6" fill="#0b4063"/>
<polygon points="893.8,992.0 888.8,1001.0 898.8,1001.0" fill="#0b4063"/>
<polygon points="896.3,992.0 891.3,1001.0 901.3,1001.0" fill="#0b4063"/>
<polygon points="898.8,992.2 893.8,1001.2 903.8,1001.2" fill="#0b4063"/>
<polygon points="901.3,990.7 896.3,999.7 906.3,999.7" fill="#0b4063"/>
<polygon points="903.8,986.9 898.8,995.9 908.8,995.9" fill="#0b4063"/>
<polygon points="906.3,985.4 901.3,994.4 911.3,994.4" fill="#0b4063"/>
<polygon points="908.8,984.0 903.8,993.0 913.8,993.0" fill="#0b4063"/>
<polygon points="911.3,984.6 906.3,993.6 916.3,993.6" fill="#0b4063"/>
<polygon points="913.8,983.3 908.8,992.3 918.8,992.3" fill="#0b4063"/>
<polygon points="916.3,982.8 911.3,991.8 921.3,991.8" fill="#0b4063"/>
<polygon points="918.8,981.3 913.8,990.3 923.8,990.3" fill="#0b4063"/>
<polygon points="921.3,978.5 916.3,987.5 926.3,987.5" fill="#0b4063"/>
<polygon points="923.8,977.7 918.8,986.7 928.8,986.7" fill="#0b4063"/>
<polygon points="926.3,975.9 921.3,984.9 931.3,984.9" fill="#0b4063"/>
<polygon points="928.8,974.0 923.8,983.0 933.8,983.0" fill="#0b4063"/>
<polygon points="931.3,970.9 926.3,979.9 936.3,979.9" fill="#0b4063"/>
<polygon points="933.8,968.8 928.8,977.8 938.8,977.8" fill="#0b4063"/>
<polygon points="936.3,965.7 931.3,974.7 941.3,974.7" fill="#0b4063"/>
<polygon points="938.8,962.9 933.8,971.9 943.8,971.9" fill="#0b4063"/>
<polygon points="941.3,959.7 936.3,968.7 946.3,968.7" fill="#0b4063"/>
<polygon points="943.8,957.8 938.8,966.8 948.8,966.8" fill="#0b4063"/>
<polygon points="946.3,956.2 941.3,965.2 951.3,965.2" fill="#0b4063"/>
<polygon points="948.8,953.9 943.8,962.9 953.8,962.9" fill="#0b4063"/>
<polygon points="951.3,950.4 946.3,959.4 956.3,959.4" fill="#0b4063"/>
<polygon points="953.8,934.7 948.8,943.7 958.8,943.7" fill="#0b4063"/>
<polygon points="956.3,909.5 951.3,918.5 961.3,918.5" fill="#0b4063"/>
<polygon points="958.8,887.1 953.8,896.1 963.8,896.1" fill="#0b4063"/>
<polygon points="961.3,868.6 956.3,877.6 966.3,877.6" fill="#0b4063"/>
<polygon points="963.8,855.9 958.8,864.9 968.8,864.9" fill="#0b4063"/>
<polygon points="966.3,848.6 961.3,857.6 971.3,857.6" fill="#0b4063"/>
<polygon points="968.8,839.6 963.8,848.6 973.8,848.6" fill="#0b4063"/>
<polygon points="971.3,832.0 966.3,841.0 976.3,841.0" fill="#0b4063"/>
<polygon points="973.8,825.8 968.8,834.8 978.8,834.8" fill="#0b4063"/>
<polygon points="976.3,821.7 971.3,830.7 981.3,830.7" fill="#0b4063"/>
<polygon points="978.8,817.9 973.8,826.9 983.8,826.9" fill="#0b4063"/>
<polygon points="981.3,816.6 976.3,825.6 986.3,825.6" fill="#0b4063"/>
<polygon points="983.8,815.5 978.8,824.5 988.8,824.5" fill="#0b4063"/>
<polygon points="986.3,815.0 981.3,824.0 991.3,824.0" fill="#0b4063"/>
<polygon points="988.8,815.2 983.8,824.2 993.8,824.2" fill="#0b4063"/>
<polygon points="991.3,814.6 986.3,823.6 996.3,823.6" fill="#0b4063"/>
<polygon points="993.8,815.5 988.8,824.5 998.8,824.5" fill="#0b4063"/>
<polygon points="996.3,814.9 991.3,823.9 1001.3,823.9" fill="#0b4063"/>
<polygon points="998.8,814.4 993.8,823.4 1003.8,823.4" fill="#0b4063"/>
<polygon points="1001.3,814.7 996.3,823.7 1006.3,823.7" fill="#0b4063"/>
<polygon points="1003.8,814.7 998.8,823.7 1008.8,823.7" fill="#0b4063"/>
<polygon points="1006.3,814.8 1001.3,823.8 1011.3,823.8" fill="#0b4063"/>
<polygon points="1008.8,814.7 1003.8,823.7 1013.8,823.7" fill="#0b4063"/>
<polygon points="1011.3,814.8 1006.3,823.8 1016.3,823.8" fill="#0b4063"/>
<polygon points="1013.8,814.8 1008.8,823.8 1018.8,823.8" fill="#0b4063"/>
<polygon points="1016.3,815.5 1011.3,824.5 1021.3,824.5" fill="#0b4063"/>
<polygon points="1018.8,814.4 1013.8,823.4 1023.8,823.4" fill="#0b4063"/>
<polygon points="1021.3,815.6 1016.3,824.6 1026.3,824.6" fill="#0b4063"/>
<polyline points="1025.80,817.20 1036.50,808.50 1053.90,801.10 1071.30,799.70 1087.40,804.40 1100.80,808.50 1103.50,802.80 1105.30,794.20 1126.70,795.70 1144.50,804.60 1158.70,811.70 1167.60,818.80 1172.00,827.70" fill="none" stroke="#0b4063" stroke-width="2.6" stroke-linejoin="round" />
<polygon points="1025.8,811.4 1020.8,820.4 1030.8,820.4" fill="#0b4063"/>
<polygon points="1028.3,810.4 1023.3,819.4 1033.3,819.4" fill="#0b4063"/>
<polygon points="1030.8,807.0 1025.8,816.0 1035.8,816.0" fill="#0b4063"/>
<polygon points="1033.3,805.7 1028.3,814.7 1038.3,814.7" fill="#0b4063"/>
<polygon points="1035.8,803.6 1030.8,812.6 1040.8,812.6" fill="#0b4063"/>
<polygon points="1038.3,802.7 1033.3,811.7 1043.3,811.7" fill="#0b4063"/>
<polygon points="1040.8,800.7 1035.8,809.7 1045.8,809.7" fill="#0b4063"/>
<polygon points="1043.3,799.8 1038.3,808.8 1048.3,808.8" fill="#0b4063"/>
<polygon points="1045.8,798.5 1040.8,807.5 1050.8,807.5" fill="#0b4063"/>
<polygon points="1048.3,798.2 1043.3,807.2 1053.3,807.2" fill="#0b4063"/>
<polygon points="1050.8,797.2 1045.8,806.2 1055.8,806.2" fill="#0b4063"/>
<polygon points="1053.3,795.1 1048.3,804.1 1058.3,804.1" fill="#0b4063"/>
<polygon points="1055.8,795.0 1050.8,804.0 1060.8,804.0" fill="#0b4063"/>
<polygon points="1058.3,794.8 1053.3,803.8 1063.3,803.8" fill="#0b4063"/>
<polygon points="1060.8,796.0 1055.8,805.0 1065.8,805.0" fill="#0b4063"/>
<polygon points="1063.3,794.9 1058.3,803.9 1068.3,803.9" fill="#0b4063"/>
<polygon points="1065.8,794.9 1060.8,803.9 1070.8,803.9" fill="#0b4063"/>
<polygon points="1068.3,794.2 1063.3,803.2 1073.3,803.2" fill="#0b4063"/>
<polygon points="1070.8,794.6 1065.8,803.6 1075.8,803.6" fill="#0b4063"/>
<polygon points="1073.3,795.4 1068.3,804.4 1078.3,804.4" fill="#0b4063"/>
<polygon points="1075.8,795.9 1070.8,804.9 1080.8,804.9" fill="#0b4063"/>
<polygon points="1078.3,795.4 1073.3,804.4 1083.3,804.4" fill="#0b4063"/>
<polygon points="1080.8,797.0 1075.8,806.0 1085.8,806.0" fill="#0b4063"/>
<polygon points="1083.3,797.8 1078.3,806.8 1088.3,806.8" fill="#0b4063"/>
<polygon points="1085.8,797.7 1080.8,806.7 1090.8,806.7" fill="#0b4063"/>
<polygon points="1088.3,799.8 1083.3,808.8 1093.3,808.8" fill="#0b4063"/>
<polygon points="1090.8,799.7 1085.8,808.7 1095.8,808.7" fill="#0b4063"/>
<polygon points="1093.3,800.4 1088.3,809.4 1098.3,809.4" fill="#0b4063"/>
<polygon points="1095.8,801.8 1090.8,810.8 1100.8,810.8" fill="#0b4063"/>
<polygon points="1098.3,802.5 1093.3,811.5 1103.3,811.5" fill="#0b4063"/>
<polygon points="1100.8,803.1 1095.8,812.1 1105.8,812.1" fill="#0b4063"/>
<polygon points="1103.3,798.5 1098.3,807.5 1108.3,807.5" fill="#0b4063"/>
<polygon points="1105.8,788.9 1100.8,797.9 1110.8,797.9" fill="#0b4063"/>
<polygon points="1108.3,788.7 1103.3,797.7 1113.3,797.7" fill="#0b4063"/>
<polygon points="1110.8,788.4 1105.8,797.4 1115.8,797.4" fill="#0b4063"/>
<polygon points="1113.3,789.5 1108.3,798.5 1118.3,798.5" fill="#0b4063"/>
<polygon points="1115.8,789.3 1110.8,798.3 1120.8,798.3" fill="#0b4063"/>
<polygon points="1118.3,789.8 1113.3,798.8 1123.3,798.8" fill="#0b4063"/>
<polygon points="1120.8,789.6 1115.8,798.6 1125.8,798.6" fill="#0b4063"/>
<polygon points="1123.3,789.2 1118.3,798.2 1128.3,798.2" fill="#0b4063"/>
<polygon points="1125.8,789.4 1120.8,798.4 1130.8,798.4" fill="#0b4063"/>
<polygon points="1128.3,790.5 1123.3,799.5 1133.3,799.5" fill="#0b4063"/>
<polygon points="1130.8,791.6 1125.8,800.6 1135.8,800.6" fill="#0b4063"/>
<polygon points="1133.3,794.2 1128.3,803.2 1138.3,803.2" fill="#0b4063"/>
<polygon points="1135.8,795.0 1130.8,804.0 1140.8,804.0" fill="#0b4063"/>
<polygon points="1138.3,795.6 1133.3,804.6 1143.3,804.6" fill="#0b4063"/>
<polygon points="1140.8,797.7 1135.8,806.7 1145.8,806.7" fill="#0b4063"/>
<polygon points="1143.3,798.8 1138.3,807.8 1148.3,807.8" fill="#0b4063"/>
<polygon points="1145.8,799.1 1140.8,808.1 1150.8,808.1" fill="#0b4063"/>
<polygon points="1148.3,801.6 1143.3,810.6 1153.3,810.6" fill="#0b4063"/>
<polygon points="1150.8,801.9 1145.8,810.9 1155.8,810.9" fill="#0b4063"/>
<polygon points="1153.3,804.5 1148.3,813.5 1158.3,813.5" fill="#0b4063"/>
<polygon points="1155.8,804.2 1150.8,813.2 1160.8,813.2" fill="#0b4063"/>
<polygon points="1158.3,805.7 1153.3,814.7 1163.3,814.7" fill="#0b4063"/>
<polygon points="1160.8,807.5 1155.8,816.5 1165.8,816.5" fill="#0b4063"/>
<polygon points="1163.3,810.6 1158.3,819.6 1168.3,819.6" fill="#0b4063"/>
<polygon points="1165.8,812.5 1160.8,821.5 1170.8,821.5" fill="#0b4063"/>
<polygon points="1168.3,815.0 1163.3,824.0 1173.3,824.0" fill="#0b4063"/>
<polygon points="1170.8,819.2 1165.8,828.2 1175.8,828.2" fill="#0b4063"/>
<polyline points="1176.50,831.20 1183.60,843.70 1185.40,873.90 1188.00,898.80 1190.70,930.80 1192.50,966.40 1195.10,985.90 1199.60,1000.20 1210.30,1012.60 1224.50,1023.30 1238.70,1026.00 1260.00,1024.20" fill="none" stroke="#0b4063" stroke-width="2.6" stroke-linejoin="round" />
<polygon points="1176.5,825.7 1171.5,834.7 1181.5,834.7" fill="#0b4063"/>
<polygon points="1179.0,830.6 1174.0,839.6 1184.0,839.6" fill="#0b4063"/>
<polygon points="1181.5,833.8 1176.5,842.8 1186.5,842.8" fill="#0b4063"/>
<polygon points="1184.0,845.8 1179.0,854.8 1189.0,854.8" fill="#0b4063"/>
<polygon points="1186.5,879.6 1181.5,888.6 1191.5,888.6" fill="#0b4063"/>
<polygon points="1189.0,906.0 1184.0,915.0 1194.0,915.0" fill="#0b4063"/>
<polygon points="1191.5,941.6 1186.5,950.6 1196.5,950.6" fill="#0b4063"/>
<polygon points="1194.0,972.5 1189.0,981.5 1199.0,981.5" fill="#0b4063"/>
<polygon points="1196.5,985.8 1191.5,994.8 1201.5,994.8" fill="#0b4063"/>
<polygon points="1199.0,992.5 1194.0,1001.5 1204.0,1001.5" fill="#0b4063"/>
<polygon points="1201.5,996.7 1196.5,1005.7 1206.5,1005.7" fill="#0b4063"/>
<polygon points="1204.0,999.2 1199.0,1008.2 1209.0,1008.2" fill="#0b4063"/>
<polygon points="1206.5,1002.2 1201.5,1011.2 1211.5,1011.2" fill="#0b4063"/>
<polygon points="1209.0,1006.2 1204.0,1015.2 1214.0,1015.2" fill="#0b4063"/>
<polygon points="1211.5,1007.4 1206.5,1016.4 1216.5,1016.4" fill="#0b4063"/>
<polygon points="1214.0,1010.4 1209.0,1019.4 1219.0,1019.4" fill="#0b4063"/>
<polygon points="1216.5,1011.7 1211.5,1020.7 1221.5,1020.7" fill="#0b4063"/>
<polygon points="1219.0,1014.4 1214.0,1023.4 1224.0,1023.4" fill="#0b4063"/>
<polygon points="1221.5,1016.1 1216.5,1025.1 1226.5,1025.1" fill="#0b4063"/>
<polygon points="1224.0,1017.9 1219.0,1026.9 1229.0,1026.9" fill="#0b4063"/>
<polygon points="1226.5,1018.9 1221.5,1027.9 1231.5,1027.9" fill="#0b4063"/>
<polygon points="1229.0,1017.9 1224.0,1026.9 1234.0,1026.9" fill="#0b4063"/>
<polygon points="1231.5,1018.8 1226.5,1027.8 1236.5,1027.8" fill="#0b4063"/>
<polygon points="1234.0,1019.5 1229.0,1028.5 1239.0,1028.5" fill="#0b4063"/>
<polygon points="1236.5,1020.1 1231.5,1029.1 1241.5,1029.1" fill="#0b4063"/>
<polygon points="1239.0,1020.9 1234.0,1029.9 1244.0,1029.9" fill="#0b4063"/>
<polygon points="1241.5,1021.0 1236.5,1030.0 1246.5,1030.0" fill="#0b4063"/>
<polygon points="1244.0,1020.6 1239.0,1029.6 1249.0,1029.6" fill="#0b4063"/>
<polygon points="1246.5,1020.7 1241.5,1029.7 1251.5,1029.7" fill="#0b4063"/>
<polygon points="1249.0,1020.1 1244.0,1029.1 1254.0,1029.1" fill="#0b4063"/>
<polygon points="1251.5,1019.3 1246.5,1028.3 1256.5,1028.3" fill="#0b4063"/>
<polygon points="1254.0,1019.3 1249.0,1028.3 1259.0,1028.3" fill="#0b4063"/>
<polygon points="1256.5,1019.5 1251.5,1028.5 1261.5,1028.5" fill="#0b4063"/>
<polygon points="1259.0,1019.5 1254.0,1028.5 1264.0,1028.5" fill="#0b4063"/>
<text x="0.0" y="1221.5" font-size="23" text-anchor="start" font-weight="bold" fill="#141414" >E</text>
<line x1="86.00" y1="1262.00" x2="86.00" y2="1702.20" stroke="#141414" stroke-width="2.5" />
<line x1="86.00" y1="1701.00" x2="566.20" y2="1701.00" stroke="#141414" stroke-width="2.5" />
<line x1="76.00" y1="1694.30" x2="86.00" y2="1694.30" stroke="#141414" stroke-width="2.2" />
<text x="72.5" y="1704.2" font-size="21.3" text-anchor="end" font-weight="normal" fill="#141414" >0.0</text>
<line x1="76.00" y1="1608.30" x2="86.00" y2="1608.30" stroke="#141414" stroke-width="2.2" />
<text x="72.5" y="1618.2" font-size="21.3" text-anchor="end" font-weight="normal" fill="#141414" >0.2</text>
<line x1="76.00" y1="1522.30" x2="86.00" y2="1522.30" stroke="#141414" stroke-width="2.2" />
<text x="72.5" y="1532.2" font-size="21.3" text-anchor="end" font-weight="normal" fill="#141414" >0.4</text>
<line x1="76.00" y1="1436.30" x2="86.00" y2="1436.30" stroke="#141414" stroke-width="2.2" />
<text x="72.5" y="1446.2" font-size="21.3" text-anchor="end" font-weight="normal" fill="#141414" >0.6</text>
<line x1="76.00" y1="1350.30" x2="86.00" y2="1350.30" stroke="#141414" stroke-width="2.2" />
<text x="72.5" y="1360.2" font-size="21.3" text-anchor="end" font-weight="normal" fill="#141414" >0.8</text>
<line x1="76.00" y1="1264.30" x2="86.00" y2="1264.30" stroke="#141414" stroke-width="2.2" />
<text x="72.5" y="1274.2" font-size="21.3" text-anchor="end" font-weight="normal" fill="#141414" >1.0</text>
<line x1="92.10" y1="1701.00" x2="92.10" y2="1707.80" stroke="#141414" stroke-width="2" />
<line x1="133.16" y1="1701.00" x2="133.16" y2="1705.60" stroke="#141414" stroke-width="2" />
<line x1="157.18" y1="1701.00" x2="157.18" y2="1705.60" stroke="#141414" stroke-width="2" />
<line x1="174.22" y1="1701.00" x2="174.22" y2="1705.60" stroke="#141414" stroke-width="2" />
<line x1="187.44" y1="1701.00" x2="187.44" y2="1705.60" stroke="#141414" stroke-width="2" />
<line x1="198.24" y1="1701.00" x2="198.24" y2="1705.60" stroke="#141414" stroke-width="2" />
<line x1="207.37" y1="1701.00" x2="207.37" y2="1705.60" stroke="#141414" stroke-width="2" />
<line x1="215.28" y1="1701.00" x2="215.28" y2="1705.60" stroke="#141414" stroke-width="2" />
<line x1="222.26" y1="1701.00" x2="222.26" y2="1705.60" stroke="#141414" stroke-width="2" />
<line x1="228.50" y1="1701.00" x2="228.50" y2="1707.80" stroke="#141414" stroke-width="2" />
<line x1="269.56" y1="1701.00" x2="269.56" y2="1705.60" stroke="#141414" stroke-width="2" />
<line x1="293.58" y1="1701.00" x2="293.58" y2="1705.60" stroke="#141414" stroke-width="2" />
<line x1="310.62" y1="1701.00" x2="310.62" y2="1705.60" stroke="#141414" stroke-width="2" />
<line x1="323.84" y1="1701.00" x2="323.84" y2="1705.60" stroke="#141414" stroke-width="2" />
<line x1="334.64" y1="1701.00" x2="334.64" y2="1705.60" stroke="#141414" stroke-width="2" />
<line x1="343.77" y1="1701.00" x2="343.77" y2="1705.60" stroke="#141414" stroke-width="2" />
<line x1="351.68" y1="1701.00" x2="351.68" y2="1705.60" stroke="#141414" stroke-width="2" />
<line x1="358.66" y1="1701.00" x2="358.66" y2="1705.60" stroke="#141414" stroke-width="2" />
<line x1="364.90" y1="1701.00" x2="364.90" y2="1707.80" stroke="#141414" stroke-width="2" />
<line x1="405.96" y1="1701.00" x2="405.96" y2="1705.60" stroke="#141414" stroke-width="2" />
<line x1="429.98" y1="1701.00" x2="429.98" y2="1705.60" stroke="#141414" stroke-width="2" />
<line x1="447.02" y1="1701.00" x2="447.02" y2="1705.60" stroke="#141414" stroke-width="2" />
<line x1="460.24" y1="1701.00" x2="460.24" y2="1705.60" stroke="#141414" stroke-width="2" />
<line x1="471.04" y1="1701.00" x2="471.04" y2="1705.60" stroke="#141414" stroke-width="2" />
<line x1="480.17" y1="1701.00" x2="480.17" y2="1705.60" stroke="#141414" stroke-width="2" />
<line x1="488.08" y1="1701.00" x2="488.08" y2="1705.60" stroke="#141414" stroke-width="2" />
<line x1="495.06" y1="1701.00" x2="495.06" y2="1705.60" stroke="#141414" stroke-width="2" />
<line x1="501.30" y1="1701.00" x2="501.30" y2="1707.80" stroke="#141414" stroke-width="2" />
<line x1="542.36" y1="1701.00" x2="542.36" y2="1705.60" stroke="#141414" stroke-width="2" />
<line x1="566.38" y1="1701.00" x2="566.38" y2="1705.60" stroke="#141414" stroke-width="2" />
<line x1="566.20" y1="1701.00" x2="566.20" y2="1707.80" stroke="#141414" stroke-width="2" />
<text x="96.0" y="1730.4" font-size="21.3" text-anchor="middle" font-weight="normal" fill="#141414" >0.01</text>
<text x="230.5" y="1730.4" font-size="21.3" text-anchor="middle" font-weight="normal" fill="#141414" >0.1</text>
<text x="364.9" y="1730.4" font-size="21.3" text-anchor="middle" font-weight="normal" fill="#141414" >1</text>
<text x="503.3" y="1730.4" font-size="21.3" text-anchor="middle" font-weight="normal" fill="#141414" >10</text>
<text x="263.0" y="1750.0" font-size="21.3" text-anchor="start" font-weight="normal" fill="#141414" >[Ca<tspan font-size="11.5" dy="-8">2+</tspan><tspan dy="8"> (μM)]</tspan><tspan font-size="13" dy="5">i</tspan></text>
<text x="21.2" y="1482.6" font-size="21.3" text-anchor="middle" font-weight="normal" fill="#141414" transform="rotate(-90 21.2 1482.6)">Normalized current</text>
<polyline points="92.10,1690.75 94.47,1690.58 96.84,1690.40 99.21,1690.22 101.59,1690.03 103.96,1689.83 106.33,1689.62 108.70,1689.40 111.07,1689.17 113.44,1688.93 115.81,1688.67 118.19,1688.41 120.56,1688.13 122.93,1687.84 125.30,1687.54 127.67,1687.23 130.04,1686.90 132.41,1686.55 134.79,1686.19 137.16,1685.81 139.53,1685.42 141.90,1685.00 144.27,1684.57 146.64,1684.12 149.01,1683.65 151.38,1683.16 153.76,1682.64 156.13,1682.10 158.50,1681.54 160.87,1680.95 163.24,1680.34 165.61,1679.70 167.98,1679.03 170.36,1678.33 172.73,1677.60 175.10,1676.84 177.47,1676.04 179.84,1675.21 182.21,1674.35 184.58,1673.44 186.96,1672.50 189.33,1671.52 191.70,1670.50 194.07,1669.43 196.44,1668.32 198.81,1667.17 201.18,1665.96 203.56,1664.71 205.93,1663.40 208.30,1662.04 210.67,1660.63 213.04,1659.16 215.41,1657.63 217.78,1656.04 220.16,1654.39 222.53,1652.68 224.90,1650.90 227.27,1649.06 229.64,1647.14 232.01,1645.16 234.38,1643.10 236.76,1640.97 239.13,1638.76 241.50,1636.48 243.87,1634.11 246.24,1631.67 248.61,1629.14 250.98,1626.53 253.35,1623.84 255.73,1621.06 258.10,1618.20 260.47,1615.24 262.84,1612.20 265.21,1609.07 267.58,1605.86 269.95,1602.55 272.33,1599.15 274.70,1595.67 277.07,1592.09 279.44,1588.43 281.81,1584.68 284.18,1580.85 286.55,1576.93 288.93,1572.92 291.30,1568.84 293.67,1564.67 296.04,1560.43 298.41,1556.11 300.78,1551.72 303.15,1547.26 305.53,1542.73 307.90,1538.15 310.27,1533.50 312.64,1528.80 315.01,1524.05 317.38,1519.25 319.75,1514.41 322.13,1509.53 324.50,1504.62 326.87,1499.69 329.24,1494.73 331.61,1489.76 333.98,1484.77 336.35,1479.78 338.73,1474.79 341.10,1469.80 343.47,1464.83 345.84,1459.87 348.21,1454.93 350.58,1450.01 352.95,1445.13 355.33,1440.28 357.70,1435.48 360.07,1430.71 362.44,1426.00 364.81,1421.35 367.18,1416.75 369.55,1412.21 371.92,1407.74 374.30,1403.33 376.67,1399.00 379.04,1394.74 381.41,1390.56 383.78,1386.46 386.15,1382.44 388.52,1378.50 390.90,1374.65 393.27,1370.88 395.64,1367.20 398.01,1363.61 400.38,1360.11 402.75,1356.70 405.12,1353.37 407.50,1350.14 409.87,1346.99 412.24,1343.94 414.61,1340.97 416.98,1338.08 419.35,1335.29 421.72,1332.58 424.10,1329.95 426.47,1327.41 428.84,1324.95 431.21,1322.57 433.58,1320.27 435.95,1318.05 438.32,1315.91 440.70,1313.83 443.07,1311.83 445.44,1309.91 447.81,1308.05 450.18,1306.26 452.55,1304.53 454.92,1302.87 457.30,1301.27 459.67,1299.73 462.04,1298.25 464.41,1296.83 466.78,1295.46 469.15,1294.14 471.52,1292.88 473.89,1291.66 476.27,1290.50 478.64,1289.38 481.01,1288.30 483.38,1287.27 485.75,1286.28 488.12,1285.33 490.49,1284.42 492.87,1283.55 495.24,1282.72 497.61,1281.91 499.98,1281.15 502.35,1280.41 504.72,1279.71 507.09,1279.03 509.47,1278.38 511.84,1277.77 514.21,1277.17 516.58,1276.61 518.95,1276.06 521.32,1275.54 523.69,1275.04 526.07,1274.57 528.44,1274.11 530.81,1273.68 533.18,1273.26 535.55,1272.86 537.92,1272.48 540.29,1272.12 542.67,1271.77 545.04,1271.44 547.41,1271.12 549.78,1270.81 552.15,1270.52 554.52,1270.24 556.89,1269.98 559.27,1269.72 561.64,1269.48 564.01,1269.25 566.38,1269.02" fill="none" stroke="#8a8a8a" stroke-width="2.2" stroke-linejoin="round" />
<polyline points="92.10,1693.93 94.47,1693.90 96.84,1693.88 99.21,1693.85 101.59,1693.82 103.96,1693.79 106.33,1693.75 108.70,1693.71 111.07,1693.67 113.44,1693.63 115.81,1693.58 118.19,1693.54 120.56,1693.48 122.93,1693.43 125.30,1693.37 127.67,1693.30 130.04,1693.24 132.41,1693.16 134.79,1693.09 137.16,1693.00 139.53,1692.92 141.90,1692.82 144.27,1692.72 146.64,1692.61 149.01,1692.50 151.38,1692.38 153.76,1692.25 156.13,1692.11 158.50,1691.96 160.87,1691.80 163.24,1691.63 165.61,1691.45 167.98,1691.25 170.36,1691.05 172.73,1690.83 175.10,1690.59 177.47,1690.34 179.84,1690.07 182.21,1689.79 184.58,1689.48 186.96,1689.16 189.33,1688.81 191.70,1688.44 194.07,1688.05 196.44,1687.63 198.81,1687.18 201.18,1686.70 203.56,1686.19 205.93,1685.65 208.30,1685.07 210.67,1684.46 213.04,1683.80 215.41,1683.10 217.78,1682.36 220.16,1681.57 222.53,1680.73 224.90,1679.83 227.27,1678.88 229.64,1677.87 232.01,1676.79 234.38,1675.65 236.76,1674.43 239.13,1673.14 241.50,1671.77 243.87,1670.32 246.24,1668.78 248.61,1667.15 250.98,1665.42 253.35,1663.59 255.73,1661.65 258.10,1659.60 260.47,1657.43 262.84,1655.14 265.21,1652.73 267.58,1650.18 269.95,1647.50 272.33,1644.67 274.70,1641.69 277.07,1638.57 279.44,1635.28 281.81,1631.84 284.18,1628.23 286.55,1624.45 288.93,1620.50 291.30,1616.37 293.67,1612.07 296.04,1607.59 298.41,1602.93 300.78,1598.08 303.15,1593.06 305.53,1587.86 307.90,1582.48 310.27,1576.93 312.64,1571.21 315.01,1565.32 317.38,1559.28 319.75,1553.09 322.13,1546.76 324.50,1540.29 326.87,1533.70 329.24,1527.00 331.61,1520.20 333.98,1513.32 336.35,1506.36 338.73,1499.35 341.10,1492.29 343.47,1485.20 345.84,1478.10 348.21,1471.01 350.58,1463.93 352.95,1456.88 355.33,1449.89 357.70,1442.95 360.07,1436.10 362.44,1429.33 364.81,1422.67 367.18,1416.12 369.55,1409.70 371.92,1403.41 374.30,1397.27 376.67,1391.28 379.04,1385.45 381.41,1379.78 383.78,1374.29 386.15,1368.97 388.52,1363.83 390.90,1358.87 393.27,1354.08 395.64,1349.48 398.01,1345.06 400.38,1340.82 402.75,1336.75 405.12,1332.86 407.50,1329.14 409.87,1325.58 412.24,1322.19 414.61,1318.96 416.98,1315.89 419.35,1312.96 421.72,1310.19 424.10,1307.55 426.47,1305.04 428.84,1302.67 431.21,1300.43 433.58,1298.30 435.95,1296.29 438.32,1294.39 440.70,1292.59 443.07,1290.89 445.44,1289.29 447.81,1287.78 450.18,1286.36 452.55,1285.02 454.92,1283.75 457.30,1282.56 459.67,1281.44 462.04,1280.39 464.41,1279.39 466.78,1278.46 469.15,1277.58 471.52,1276.76 473.89,1275.98 476.27,1275.26 478.64,1274.57 481.01,1273.93 483.38,1273.33 485.75,1272.76 488.12,1272.23 490.49,1271.73 492.87,1271.27 495.24,1270.83 497.61,1270.42 499.98,1270.03 502.35,1269.67 504.72,1269.33 507.09,1269.01 509.47,1268.71 511.84,1268.43 514.21,1268.17 516.58,1267.93 518.95,1267.70 521.32,1267.48 523.69,1267.28 526.07,1267.09 528.44,1266.91 530.81,1266.75 533.18,1266.59 535.55,1266.45 537.92,1266.31 540.29,1266.18 542.67,1266.06 545.04,1265.95 547.41,1265.84 549.78,1265.75 552.15,1265.65 554.52,1265.57 556.89,1265.49 559.27,1265.41 561.64,1265.34 564.01,1265.27 566.38,1265.21" fill="none" stroke="#a9c9df" stroke-width="2.2" stroke-linejoin="round" />
<polyline points="92.10,1693.72 94.47,1693.68 96.84,1693.64 99.21,1693.60 101.59,1693.56 103.96,1693.51 106.33,1693.46 108.70,1693.41 111.07,1693.35 113.44,1693.29 115.81,1693.23 118.19,1693.16 120.56,1693.09 122.93,1693.02 125.30,1692.94 127.67,1692.85 130.04,1692.76 132.41,1692.66 134.79,1692.56 137.16,1692.45 139.53,1692.34 141.90,1692.22 144.27,1692.09 146.64,1691.95 149.01,1691.80 151.38,1691.65 153.76,1691.48 156.13,1691.30 158.50,1691.12 160.87,1690.92 163.24,1690.71 165.61,1690.49 167.98,1690.25 170.36,1690.00 172.73,1689.73 175.10,1689.45 177.47,1689.15 179.84,1688.83 182.21,1688.49 184.58,1688.13 186.96,1687.75 189.33,1687.34 191.70,1686.91 194.07,1686.46 196.44,1685.98 198.81,1685.47 201.18,1684.92 203.56,1684.35 205.93,1683.74 208.30,1683.09 210.67,1682.41 213.04,1681.69 215.41,1680.92 217.78,1680.11 220.16,1679.25 222.53,1678.34 224.90,1677.38 227.27,1676.36 229.64,1675.29 232.01,1674.15 234.38,1672.95 236.76,1671.68 239.13,1670.34 241.50,1668.92 243.87,1667.43 246.24,1665.86 248.61,1664.20 250.98,1662.45 253.35,1660.61 255.73,1658.67 258.10,1656.63 260.47,1654.48 262.84,1652.23 265.21,1649.86 267.58,1647.38 269.95,1644.78 272.33,1642.05 274.70,1639.19 277.07,1636.20 279.44,1633.07 281.81,1629.81 284.18,1626.40 286.55,1622.85 288.93,1619.15 291.30,1615.30 293.67,1611.30 296.04,1607.15 298.41,1602.84 300.78,1598.38 303.15,1593.77 305.53,1589.01 307.90,1584.10 310.27,1579.04 312.64,1573.83 315.01,1568.49 317.38,1563.00 319.75,1557.39 322.13,1551.65 324.50,1545.79 326.87,1539.82 329.24,1533.75 331.61,1527.58 333.98,1521.33 336.35,1515.00 338.73,1508.61 341.10,1502.16 343.47,1495.68 345.84,1489.16 348.21,1482.63 350.58,1476.09 352.95,1469.55 355.33,1463.04 357.70,1456.55 360.07,1450.10 362.44,1443.71 364.81,1437.38 367.18,1431.13 369.55,1424.96 371.92,1418.89 374.30,1412.91 376.67,1407.05 379.04,1401.31 381.41,1395.69 383.78,1390.21 386.15,1384.86 388.52,1379.65 390.90,1374.59 393.27,1369.67 395.64,1364.91 398.01,1360.30 400.38,1355.83 402.75,1351.53 405.12,1347.37 407.50,1343.37 409.87,1339.52 412.24,1335.82 414.61,1332.26 416.98,1328.85 419.35,1325.58 421.72,1322.46 424.10,1319.46 426.47,1316.60 428.84,1313.87 431.21,1311.26 433.58,1308.78 435.95,1306.41 438.32,1304.15 440.70,1302.01 443.07,1299.97 445.44,1298.03 447.81,1296.18 450.18,1294.43 452.55,1292.77 454.92,1291.20 457.30,1289.70 459.67,1288.29 462.04,1286.94 464.41,1285.67 466.78,1284.47 469.15,1283.33 471.52,1282.26 473.89,1281.24 476.27,1280.28 478.64,1279.37 481.01,1278.51 483.38,1277.69 485.75,1276.93 488.12,1276.20 490.49,1275.52 492.87,1274.87 495.24,1274.26 497.61,1273.69 499.98,1273.14 502.35,1272.63 504.72,1272.15 507.09,1271.69 509.47,1271.26 511.84,1270.86 514.21,1270.48 516.58,1270.12 518.95,1269.78 521.32,1269.46 523.69,1269.16 526.07,1268.87 528.44,1268.61 530.81,1268.35 533.18,1268.12 535.55,1267.89 537.92,1267.68 540.29,1267.49 542.67,1267.30 545.04,1267.12 547.41,1266.96 549.78,1266.80 552.15,1266.65 554.52,1266.52 556.89,1266.39 559.27,1266.26 561.64,1266.15 564.01,1266.04 566.38,1265.94" fill="none" stroke="#0b4063" stroke-width="2.2" stroke-linejoin="round" />
<polyline points="92.10,1694.15 94.47,1694.14 96.84,1694.13 99.21,1694.11 101.59,1694.10 103.96,1694.08 106.33,1694.07 108.70,1694.05 111.07,1694.03 113.44,1694.00 115.81,1693.98 118.19,1693.95 120.56,1693.93 122.93,1693.90 125.30,1693.86 127.67,1693.83 130.04,1693.79 132.41,1693.75 134.79,1693.70 137.16,1693.66 139.53,1693.60 141.90,1693.55 144.27,1693.49 146.64,1693.42 149.01,1693.35 151.38,1693.27 153.76,1693.19 156.13,1693.10 158.50,1693.00 160.87,1692.89 163.24,1692.78 165.61,1692.66 167.98,1692.53 170.36,1692.38 172.73,1692.23 175.10,1692.06 177.47,1691.88 179.84,1691.68 182.21,1691.47 184.58,1691.24 186.96,1691.00 189.33,1690.73 191.70,1690.44 194.07,1690.13 196.44,1689.80 198.81,1689.44 201.18,1689.05 203.56,1688.63 205.93,1688.17 208.30,1687.68 210.67,1687.16 213.04,1686.59 215.41,1685.97 217.78,1685.31 220.16,1684.60 222.53,1683.83 224.90,1683.00 227.27,1682.11 229.64,1681.15 232.01,1680.12 234.38,1679.01 236.76,1677.81 239.13,1676.53 241.50,1675.15 243.87,1673.67 246.24,1672.08 248.61,1670.38 250.98,1668.56 253.35,1666.60 255.73,1664.51 258.10,1662.27 260.47,1659.88 262.84,1657.32 265.21,1654.60 267.58,1651.69 269.95,1648.60 272.33,1645.31 274.70,1641.82 277.07,1638.12 279.44,1634.19 281.81,1630.04 284.18,1625.66 286.55,1621.03 288.93,1616.17 291.30,1611.05 293.67,1605.68 296.04,1600.07 298.41,1594.20 300.78,1588.08 303.15,1581.71 305.53,1575.10 307.90,1568.26 310.27,1561.20 312.64,1553.92 315.01,1546.44 317.38,1538.78 319.75,1530.95 322.13,1522.97 324.50,1514.86 326.87,1506.65 329.24,1498.36 331.61,1490.01 333.98,1481.63 336.35,1473.24 338.73,1464.86 341.10,1456.54 343.47,1448.28 345.84,1440.11 348.21,1432.06 350.58,1424.14 352.95,1416.39 355.33,1408.80 357.70,1401.41 360.07,1394.23 362.44,1387.26 364.81,1380.52 367.18,1374.02 369.55,1367.77 371.92,1361.76 374.30,1356.00 376.67,1350.49 379.04,1345.24 381.41,1340.24 383.78,1335.48 386.15,1330.96 388.52,1326.68 390.90,1322.63 393.27,1318.81 395.64,1315.20 398.01,1311.80 400.38,1308.60 402.75,1305.59 405.12,1302.77 407.50,1300.12 409.87,1297.64 412.24,1295.32 414.61,1293.14 416.98,1291.11 419.35,1289.22 421.72,1287.45 424.10,1285.79 426.47,1284.26 428.84,1282.82 431.21,1281.49 433.58,1280.24 435.95,1279.09 438.32,1278.01 440.70,1277.01 443.07,1276.08 445.44,1275.22 447.81,1274.42 450.18,1273.68 452.55,1272.99 454.92,1272.35 457.30,1271.75 459.67,1271.20 462.04,1270.69 464.41,1270.22 466.78,1269.78 469.15,1269.37 471.52,1269.00 473.89,1268.65 476.27,1268.32 478.64,1268.02 481.01,1267.75 483.38,1267.49 485.75,1267.25 488.12,1267.03 490.49,1266.83 492.87,1266.64 495.24,1266.46 497.61,1266.30 499.98,1266.15 502.35,1266.01 504.72,1265.89 507.09,1265.77 509.47,1265.66 511.84,1265.56 514.21,1265.46 516.58,1265.37 518.95,1265.29 521.32,1265.22 523.69,1265.15 526.07,1265.09 528.44,1265.03 530.81,1264.97 533.18,1264.92 535.55,1264.88 537.92,1264.83 540.29,1264.79 542.67,1264.76 545.04,1264.72 547.41,1264.69 549.78,1264.66 552.15,1264.63 554.52,1264.61 556.89,1264.59 559.27,1264.56 561.64,1264.54 564.01,1264.53 566.38,1264.51" fill="none" stroke="#5b9cc6" stroke-width="2.2" stroke-linejoin="round" />
<line x1="293.58" y1="1522.00" x2="293.58" y2="1548.00" stroke="#8a8a8a" stroke-width="2" />
<line x1="288.58" y1="1522.00" x2="298.58" y2="1522.00" stroke="#8a8a8a" stroke-width="2" />
<line x1="288.58" y1="1548.00" x2="298.58" y2="1548.00" stroke="#8a8a8a" stroke-width="2" />
<rect x="288.6" y="1530.0" width="10" height="10" fill="none" stroke="#8a8a8a" stroke-width="2"/>
<line x1="293.58" y1="1582.00" x2="293.58" y2="1602.00" stroke="#0b4063" stroke-width="2" />
<line x1="288.58" y1="1582.00" x2="298.58" y2="1582.00" stroke="#0b4063" stroke-width="2" />
<line x1="288.58" y1="1602.00" x2="298.58" y2="1602.00" stroke="#0b4063" stroke-width="2" />
<rect x="288.58" y="1590.00" width="10.00" height="10.00" fill="#0b4063"/>
<polygon points="293.6,1606.0 289.6,1614.0 297.6,1614.0" fill="#5b9cc6"/>
<line x1="364.90" y1="1377.30" x2="364.90" y2="1399.70" stroke="#5b9cc6" stroke-width="2" />
<line x1="359.90" y1="1377.30" x2="369.90" y2="1377.30" stroke="#5b9cc6" stroke-width="2" />
<line x1="359.90" y1="1399.70" x2="369.90" y2="1399.70" stroke="#5b9cc6" stroke-width="2" />
<polygon points="364.9,1382.0 360.1,1391.6 369.7,1391.6" fill="#5b9cc6"/>
<polygon points="364.9,1434.0 359.5,1443.6 370.3,1443.6" fill="none" stroke="#a9c9df" stroke-width="2"/>
<line x1="364.90" y1="1451.00" x2="364.90" y2="1466.00" stroke="#0b4063" stroke-width="2" />
<line x1="359.90" y1="1451.00" x2="369.90" y2="1451.00" stroke="#0b4063" stroke-width="2" />
<line x1="359.90" y1="1466.00" x2="369.90" y2="1466.00" stroke="#0b4063" stroke-width="2" />
<rect x="359.90" y="1461.00" width="10.00" height="10.00" fill="#0b4063"/>
<line x1="364.90" y1="1466.00" x2="364.90" y2="1492.60" stroke="#8a8a8a" stroke-width="2" />
<line x1="359.90" y1="1466.00" x2="369.90" y2="1466.00" stroke="#8a8a8a" stroke-width="2" />
<line x1="359.90" y1="1492.60" x2="369.90" y2="1492.60" stroke="#8a8a8a" stroke-width="2" />
<rect x="359.9" y="1473.2" width="10" height="10" fill="none" stroke="#8a8a8a" stroke-width="2"/>
<rect x="424.98" y="1258.00" width="10.00" height="10.00" fill="#0b4063"/>
<line x1="86.50" y1="1219.50" x2="111.00" y2="1219.50" stroke="#8a8a8a" stroke-width="2" />
<rect x="94.5" y="1215.0" width="9" height="9" fill="none" stroke="#8a8a8a" stroke-width="2"/>
<text x="115.0" y="1226.9" font-size="21.3" text-anchor="start" font-weight="normal" fill="#141414" >Standard internal -120 mV</text>
<text x="115.0" y="1252.7" font-size="21.3" text-anchor="start" font-weight="normal" fill="#141414" >EC<tspan font-size="12.5" dy="7">50</tspan><tspan dy="-7"> = 773 ± 44 nM</tspan></text>
<text x="115.0" y="1278.5" font-size="21.3" text-anchor="start" font-weight="normal" fill="#141414" >(n = 66 cells)</text>
<line x1="86.50" y1="1301.80" x2="111.00" y2="1301.80" stroke="#a9c9df" stroke-width="2" />
<polygon points="99.0,1296.3 94.0,1305.1 104.0,1305.1" fill="none" stroke="#a9c9df" stroke-width="2"/>
<text x="112.5" y="1307.5" font-size="21.3" text-anchor="start" font-weight="normal" fill="#141414" xml:space="preserve">Fluoride-free internal  -120 mV</text>
<text x="112.5" y="1333.0" font-size="21.3" text-anchor="start" font-weight="normal" fill="#141414" >EC<tspan font-size="12.5" dy="7">50</tspan><tspan dy="-7"> = 676 ± 22 nM</tspan></text>
<text x="112.5" y="1359.0" font-size="21.3" text-anchor="start" font-weight="normal" fill="#141414" >(n = 121 cells)</text>
<line x1="349.10" y1="1544.00" x2="375.70" y2="1544.00" stroke="#0b4063" stroke-width="2" />
<rect x="357.40" y="1539.00" width="10.00" height="10.00" fill="#0b4063"/>
<text x="377.9" y="1550.4" font-size="21.3" text-anchor="start" font-weight="normal" fill="#141414" >Standard internal 60 mV</text>
<text x="377.9" y="1576.7" font-size="21.3" text-anchor="start" font-weight="normal" fill="#141414" >EC<tspan font-size="12.5" dy="7">50</tspan><tspan dy="-7"> = 808 ± 50 nM</tspan></text>
<text x="377.9" y="1601.7" font-size="21.3" text-anchor="start" font-weight="normal" fill="#141414" >(n = 66 cells)</text>
<line x1="349.10" y1="1627.90" x2="375.70" y2="1627.90" stroke="#5b9cc6" stroke-width="2" />
<polygon points="362.4,1621.9 357.6,1631.5 367.2,1631.5" fill="#5b9cc6"/>
<text x="377.9" y="1635.3" font-size="21.3" text-anchor="start" font-weight="normal" fill="#141414" xml:space="preserve">Fluoride-free internal  60 mV</text>
<text x="377.9" y="1661.0" font-size="21.3" text-anchor="start" font-weight="normal" fill="#141414" >EC<tspan font-size="12.5" dy="7">50</tspan><tspan dy="-7"> = 635 ± 20 nM</tspan></text>
<text x="377.9" y="1684.9" font-size="21.3" text-anchor="start" font-weight="normal" fill="#141414" >(n = 121 cells)</text>
<text x="662.5" y="1221.2" font-size="23" text-anchor="start" font-weight="bold" fill="#141414" >F</text>
<line x1="746.00" y1="1285.40" x2="746.00" y2="1708.20" stroke="#141414" stroke-width="2.5" />
<line x1="746.00" y1="1707.00" x2="1240.40" y2="1707.00" stroke="#141414" stroke-width="2.5" />
<line x1="736.00" y1="1700.00" x2="746.00" y2="1700.00" stroke="#141414" stroke-width="2.2" />
<text x="730.4" y="1709.9" font-size="21.3" text-anchor="end" font-weight="normal" fill="#141414" >0.0</text>
<line x1="736.00" y1="1624.20" x2="746.00" y2="1624.20" stroke="#141414" stroke-width="2.2" />
<text x="730.4" y="1634.1" font-size="21.3" text-anchor="end" font-weight="normal" fill="#141414" >0.2</text>
<line x1="736.00" y1="1548.40" x2="746.00" y2="1548.40" stroke="#141414" stroke-width="2.2" />
<text x="730.4" y="1558.3" font-size="21.3" text-anchor="end" font-weight="normal" fill="#141414" >0.4</text>
<line x1="736.00" y1="1472.60" x2="746.00" y2="1472.60" stroke="#141414" stroke-width="2.2" />
<text x="730.4" y="1482.5" font-size="21.3" text-anchor="end" font-weight="normal" fill="#141414" >0.6</text>
<line x1="736.00" y1="1396.80" x2="746.00" y2="1396.80" stroke="#141414" stroke-width="2.2" />
<text x="730.4" y="1406.7" font-size="21.3" text-anchor="end" font-weight="normal" fill="#141414" >0.8</text>
<line x1="736.00" y1="1321.00" x2="746.00" y2="1321.00" stroke="#141414" stroke-width="2.2" />
<text x="730.4" y="1330.9" font-size="21.3" text-anchor="end" font-weight="normal" fill="#141414" >1.0</text>
<line x1="754.29" y1="1707.00" x2="754.29" y2="1713.30" stroke="#141414" stroke-width="2" />
<line x1="768.01" y1="1707.00" x2="768.01" y2="1713.30" stroke="#141414" stroke-width="2" />
<line x1="778.65" y1="1707.00" x2="778.65" y2="1713.30" stroke="#141414" stroke-width="2" />
<line x1="787.34" y1="1707.00" x2="787.34" y2="1713.30" stroke="#141414" stroke-width="2" />
<line x1="794.69" y1="1707.00" x2="794.69" y2="1713.30" stroke="#141414" stroke-width="2" />
<line x1="801.06" y1="1707.00" x2="801.06" y2="1713.30" stroke="#141414" stroke-width="2" />
<line x1="806.68" y1="1707.00" x2="806.68" y2="1713.30" stroke="#141414" stroke-width="2" />
<line x1="811.70" y1="1707.00" x2="811.70" y2="1716.40" stroke="#141414" stroke-width="2" />
<line x1="844.75" y1="1707.00" x2="844.75" y2="1713.30" stroke="#141414" stroke-width="2" />
<line x1="864.09" y1="1707.00" x2="864.09" y2="1713.30" stroke="#141414" stroke-width="2" />
<line x1="877.81" y1="1707.00" x2="877.81" y2="1713.30" stroke="#141414" stroke-width="2" />
<line x1="888.45" y1="1707.00" x2="888.45" y2="1713.30" stroke="#141414" stroke-width="2" />
<line x1="897.14" y1="1707.00" x2="897.14" y2="1713.30" stroke="#141414" stroke-width="2" />
<line x1="904.49" y1="1707.00" x2="904.49" y2="1713.30" stroke="#141414" stroke-width="2" />
<line x1="910.86" y1="1707.00" x2="910.86" y2="1713.30" stroke="#141414" stroke-width="2" />
<line x1="916.48" y1="1707.00" x2="916.48" y2="1713.30" stroke="#141414" stroke-width="2" />
<line x1="921.50" y1="1707.00" x2="921.50" y2="1716.40" stroke="#141414" stroke-width="2" />
<line x1="954.55" y1="1707.00" x2="954.55" y2="1713.30" stroke="#141414" stroke-width="2" />
<line x1="973.89" y1="1707.00" x2="973.89" y2="1713.30" stroke="#141414" stroke-width="2" />
<line x1="987.61" y1="1707.00" x2="987.61" y2="1713.30" stroke="#141414" stroke-width="2" />
<line x1="998.25" y1="1707.00" x2="998.25" y2="1713.30" stroke="#141414" stroke-width="2" />
<line x1="1006.94" y1="1707.00" x2="1006.94" y2="1713.30" stroke="#141414" stroke-width="2" />
<line x1="1014.29" y1="1707.00" x2="1014.29" y2="1713.30" stroke="#141414" stroke-width="2" />
<line x1="1020.66" y1="1707.00" x2="1020.66" y2="1713.30" stroke="#141414" stroke-width="2" />
<line x1="1026.28" y1="1707.00" x2="1026.28" y2="1713.30" stroke="#141414" stroke-width="2" />
<line x1="1031.30" y1="1707.00" x2="1031.30" y2="1716.40" stroke="#141414" stroke-width="2" />
<line x1="1064.35" y1="1707.00" x2="1064.35" y2="1713.30" stroke="#141414" stroke-width="2" />
<line x1="1083.69" y1="1707.00" x2="1083.69" y2="1713.30" stroke="#141414" stroke-width="2" />
<line x1="1097.41" y1="1707.00" x2="1097.41" y2="1713.30" stroke="#141414" stroke-width="2" />
<line x1="1108.05" y1="1707.00" x2="1108.05" y2="1713.30" stroke="#141414" stroke-width="2" />
<line x1="1116.74" y1="1707.00" x2="1116.74" y2="1713.30" stroke="#141414" stroke-width="2" />
<line x1="1124.09" y1="1707.00" x2="1124.09" y2="1713.30" stroke="#141414" stroke-width="2" />
<line x1="1130.46" y1="1707.00" x2="1130.46" y2="1713.30" stroke="#141414" stroke-width="2" />
<line x1="1136.08" y1="1707.00" x2="1136.08" y2="1713.30" stroke="#141414" stroke-width="2" />
<line x1="1141.10" y1="1707.00" x2="1141.10" y2="1716.40" stroke="#141414" stroke-width="2" />
<line x1="1174.15" y1="1707.00" x2="1174.15" y2="1713.30" stroke="#141414" stroke-width="2" />
<line x1="1193.49" y1="1707.00" x2="1193.49" y2="1713.30" stroke="#141414" stroke-width="2" />
<line x1="1207.21" y1="1707.00" x2="1207.21" y2="1713.30" stroke="#141414" stroke-width="2" />
<line x1="1217.85" y1="1707.00" x2="1217.85" y2="1713.30" stroke="#141414" stroke-width="2" />
<line x1="1226.54" y1="1707.00" x2="1226.54" y2="1713.30" stroke="#141414" stroke-width="2" />
<line x1="1233.89" y1="1707.00" x2="1233.89" y2="1713.30" stroke="#141414" stroke-width="2" />
<line x1="1240.26" y1="1707.00" x2="1240.26" y2="1713.30" stroke="#141414" stroke-width="2" />
<line x1="1240.40" y1="1707.00" x2="1240.40" y2="1716.40" stroke="#141414" stroke-width="2" />
<text x="820.5" y="1739.8" font-size="21.3" text-anchor="middle" font-weight="normal" fill="#141414" >0.01</text>
<text x="923.5" y="1739.8" font-size="21.3" text-anchor="middle" font-weight="normal" fill="#141414" >0.1</text>
<text x="1031.3" y="1739.8" font-size="21.3" text-anchor="middle" font-weight="normal" fill="#141414" >1</text>
<text x="1141.1" y="1739.8" font-size="21.3" text-anchor="middle" font-weight="normal" fill="#141414" >10</text>
<text x="956.5" y="1763.3" font-size="21.3" text-anchor="start" font-weight="normal" fill="#141414" >[Ba<tspan font-size="11.5" dy="-8">2+</tspan><tspan dy="8"> (mM)]</tspan><tspan font-size="13" dy="5">o</tspan></text>
<text x="680.5" y="1489.0" font-size="21.3" text-anchor="middle" font-weight="normal" fill="#141414" transform="rotate(-90 680.5 1489)">Normalized block</text>
<polyline points="754.29,1695.03 756.72,1694.78 759.15,1694.51 761.58,1694.23 764.01,1693.94 766.44,1693.63 768.87,1693.31 771.30,1692.97 773.73,1692.61 776.16,1692.24 778.59,1691.84 781.02,1691.43 783.45,1691.00 785.88,1690.55 788.31,1690.07 790.74,1689.57 793.17,1689.05 795.60,1688.50 798.03,1687.92 800.46,1687.32 802.89,1686.68 805.31,1686.02 807.74,1685.32 810.17,1684.59 812.60,1683.83 815.03,1683.03 817.46,1682.20 819.89,1681.32 822.32,1680.40 824.75,1679.44 827.18,1678.44 829.61,1677.39 832.04,1676.30 834.47,1675.15 836.90,1673.95 839.33,1672.70 841.76,1671.40 844.19,1670.03 846.62,1668.61 849.05,1667.13 851.48,1665.58 853.91,1663.97 856.34,1662.29 858.77,1660.54 861.20,1658.72 863.63,1656.83 866.06,1654.86 868.49,1652.82 870.92,1650.70 873.35,1648.49 875.78,1646.20 878.21,1643.83 880.64,1641.38 883.07,1638.83 885.50,1636.20 887.93,1633.48 890.36,1630.67 892.79,1627.76 895.22,1624.77 897.65,1621.68 900.08,1618.50 902.51,1615.22 904.94,1611.86 907.37,1608.40 909.80,1604.85 912.23,1601.21 914.66,1597.48 917.09,1593.67 919.52,1589.76 921.95,1585.78 924.38,1581.71 926.81,1577.57 929.24,1573.35 931.67,1569.06 934.10,1564.71 936.53,1560.29 938.96,1555.81 941.39,1551.28 943.82,1546.70 946.25,1542.07 948.68,1537.40 951.11,1532.70 953.54,1527.98 955.97,1523.23 958.40,1518.46 960.83,1513.69 963.26,1508.91 965.69,1504.13 968.12,1499.36 970.55,1494.60 972.98,1489.87 975.40,1485.16 977.83,1480.48 980.26,1475.84 982.69,1471.25 985.12,1466.70 987.55,1462.20 989.98,1457.76 992.41,1453.38 994.84,1449.07 997.27,1444.83 999.70,1440.66 1002.13,1436.57 1004.56,1432.55 1006.99,1428.63 1009.42,1424.78 1011.85,1421.02 1014.28,1417.35 1016.71,1413.77 1019.14,1410.28 1021.57,1406.89 1024.00,1403.58 1026.43,1400.37 1028.86,1397.25 1031.29,1394.23 1033.72,1391.29 1036.15,1388.45 1038.58,1385.70 1041.01,1383.03 1043.44,1380.46 1045.87,1377.98 1048.30,1375.58 1050.73,1373.26 1053.16,1371.03 1055.59,1368.88 1058.02,1366.81 1060.45,1364.82 1062.88,1362.90 1065.31,1361.06 1067.74,1359.28 1070.17,1357.58 1072.60,1355.95 1075.03,1354.38 1077.46,1352.88 1079.89,1351.43 1082.32,1350.05 1084.75,1348.73 1087.18,1347.46 1089.61,1346.24 1092.04,1345.08 1094.47,1343.97 1096.90,1342.90 1099.33,1341.89 1101.76,1340.91 1104.19,1339.98 1106.62,1339.09 1109.05,1338.24 1111.48,1337.43 1113.91,1336.66 1116.34,1335.92 1118.77,1335.21 1121.20,1334.54 1123.63,1333.89 1126.06,1333.28 1128.49,1332.69 1130.92,1332.14 1133.35,1331.60 1135.78,1331.09 1138.21,1330.61 1140.64,1330.15 1143.07,1329.71 1145.49,1329.29 1147.92,1328.89 1150.35,1328.51 1152.78,1328.15 1155.21,1327.80 1157.64,1327.47 1160.07,1327.16 1162.50,1326.86 1164.93,1326.58 1167.36,1326.31 1169.79,1326.05 1172.22,1325.80 1174.65,1325.57 1177.08,1325.35 1179.51,1325.14 1181.94,1324.94 1184.37,1324.74 1186.80,1324.56 1189.23,1324.39 1191.66,1324.22 1194.09,1324.07 1196.52,1323.92 1198.95,1323.77 1201.38,1323.64 1203.81,1323.51 1206.24,1323.39 1208.67,1323.27 1211.10,1323.16 1213.53,1323.05 1215.96,1322.95 1218.39,1322.86 1220.82,1322.77 1223.25,1322.68 1225.68,1322.60 1228.11,1322.52 1230.54,1322.44 1232.97,1322.37 1235.40,1322.31 1237.83,1322.24 1240.26,1322.18" fill="none" stroke="#8a8a8a" stroke-width="2.2" stroke-linejoin="round" />
<polyline points="754.29,1697.47 756.72,1697.34 759.15,1697.21 761.58,1697.07 764.01,1696.93 766.44,1696.78 768.87,1696.62 771.30,1696.45 773.73,1696.28 776.16,1696.10 778.59,1695.91 781.02,1695.71 783.45,1695.49 785.88,1695.27 788.31,1695.04 790.74,1694.80 793.17,1694.55 795.60,1694.28 798.03,1694.00 800.46,1693.71 802.89,1693.40 805.31,1693.08 807.74,1692.74 810.17,1692.39 812.60,1692.02 815.03,1691.63 817.46,1691.23 819.89,1690.80 822.32,1690.36 824.75,1689.89 827.18,1689.41 829.61,1688.90 832.04,1688.36 834.47,1687.80 836.90,1687.22 839.33,1686.61 841.76,1685.97 844.19,1685.30 846.62,1684.60 849.05,1683.87 851.48,1683.10 853.91,1682.31 856.34,1681.47 858.77,1680.60 861.20,1679.69 863.63,1678.74 866.06,1677.74 868.49,1676.71 870.92,1675.63 873.35,1674.50 875.78,1673.32 878.21,1672.10 880.64,1670.82 883.07,1669.49 885.50,1668.10 887.93,1666.66 890.36,1665.16 892.79,1663.60 895.22,1661.97 897.65,1660.29 900.08,1658.53 902.51,1656.71 904.94,1654.82 907.37,1652.86 909.80,1650.82 912.23,1648.71 914.66,1646.53 917.09,1644.26 919.52,1641.92 921.95,1639.50 924.38,1637.00 926.81,1634.42 929.24,1631.75 931.67,1629.00 934.10,1626.16 936.53,1623.24 938.96,1620.24 941.39,1617.15 943.82,1613.97 946.25,1610.71 948.68,1607.36 951.11,1603.93 953.54,1600.42 955.97,1596.82 958.40,1593.15 960.83,1589.40 963.26,1585.57 965.69,1581.66 968.12,1577.69 970.55,1573.64 972.98,1569.53 975.40,1565.36 977.83,1561.13 980.26,1556.84 982.69,1552.51 985.12,1548.12 987.55,1543.70 989.98,1539.23 992.41,1534.74 994.84,1530.21 997.27,1525.66 999.70,1521.10 1002.13,1516.52 1004.56,1511.94 1006.99,1507.35 1009.42,1502.77 1011.85,1498.19 1014.28,1493.63 1016.71,1489.10 1019.14,1484.58 1021.57,1480.10 1024.00,1475.64 1026.43,1471.23 1028.86,1466.87 1031.29,1462.55 1033.72,1458.28 1036.15,1454.07 1038.58,1449.92 1041.01,1445.84 1043.44,1441.82 1045.87,1437.87 1048.30,1433.99 1050.73,1430.19 1053.16,1426.47 1055.59,1422.82 1058.02,1419.26 1060.45,1415.78 1062.88,1412.38 1065.31,1409.06 1067.74,1405.83 1070.17,1402.69 1072.60,1399.63 1075.03,1396.66 1077.46,1393.77 1079.89,1390.96 1082.32,1388.24 1084.75,1385.61 1087.18,1383.05 1089.61,1380.58 1092.04,1378.19 1094.47,1375.88 1096.90,1373.65 1099.33,1371.49 1101.76,1369.41 1104.19,1367.40 1106.62,1365.47 1109.05,1363.60 1111.48,1361.81 1113.91,1360.08 1116.34,1358.41 1118.77,1356.81 1121.20,1355.27 1123.63,1353.79 1126.06,1352.37 1128.49,1351.01 1130.92,1349.70 1133.35,1348.44 1135.78,1347.23 1138.21,1346.07 1140.64,1344.96 1143.07,1343.90 1145.49,1342.88 1147.92,1341.90 1150.35,1340.97 1152.78,1340.07 1155.21,1339.21 1157.64,1338.39 1160.07,1337.61 1162.50,1336.85 1164.93,1336.14 1167.36,1335.45 1169.79,1334.79 1172.22,1334.16 1174.65,1333.56 1177.08,1332.98 1179.51,1332.44 1181.94,1331.91 1184.37,1331.41 1186.80,1330.93 1189.23,1330.47 1191.66,1330.04 1194.09,1329.62 1196.52,1329.22 1198.95,1328.84 1201.38,1328.48 1203.81,1328.13 1206.24,1327.80 1208.67,1327.48 1211.10,1327.18 1213.53,1326.89 1215.96,1326.62 1218.39,1326.36 1220.82,1326.11 1223.25,1325.87 1225.68,1325.64 1228.11,1325.43 1230.54,1325.22 1232.97,1325.02 1235.40,1324.83 1237.83,1324.65 1240.26,1324.48" fill="none" stroke="#5b9cc6" stroke-width="2.2" stroke-linejoin="round" />
<polyline points="754.29,1697.59 756.72,1697.47 759.15,1697.34 761.58,1697.20 764.01,1697.06 766.44,1696.91 768.87,1696.76 771.30,1696.59 773.73,1696.42 776.16,1696.24 778.59,1696.05 781.02,1695.85 783.45,1695.64 785.88,1695.42 788.31,1695.18 790.74,1694.94 793.17,1694.69 795.60,1694.42 798.03,1694.14 800.46,1693.84 802.89,1693.53 805.31,1693.21 807.74,1692.86 810.17,1692.51 812.60,1692.13 815.03,1691.74 817.46,1691.32 819.89,1690.89 822.32,1690.44 824.75,1689.96 827.18,1689.46 829.61,1688.93 832.04,1688.39 834.47,1687.81 836.90,1687.21 839.33,1686.57 841.76,1685.91 844.19,1685.22 846.62,1684.49 849.05,1683.73 851.48,1682.94 853.91,1682.11 856.34,1681.24 858.77,1680.32 861.20,1679.37 863.63,1678.38 866.06,1677.33 868.49,1676.25 870.92,1675.11 873.35,1673.92 875.78,1672.68 878.21,1671.39 880.64,1670.04 883.07,1668.64 885.50,1667.17 887.93,1665.64 890.36,1664.05 892.79,1662.39 895.22,1660.66 897.65,1658.87 900.08,1657.00 902.51,1655.06 904.94,1653.04 907.37,1650.95 909.80,1648.78 912.23,1646.52 914.66,1644.19 917.09,1641.77 919.52,1639.27 921.95,1636.68 924.38,1634.00 926.81,1631.23 929.24,1628.38 931.67,1625.43 934.10,1622.40 936.53,1619.27 938.96,1616.05 941.39,1612.74 943.82,1609.34 946.25,1605.85 948.68,1602.27 951.11,1598.61 953.54,1594.86 955.97,1591.02 958.40,1587.10 960.83,1583.11 963.26,1579.03 965.69,1574.88 968.12,1570.66 970.55,1566.37 972.98,1562.02 975.40,1557.61 977.83,1553.15 980.26,1548.63 982.69,1544.07 985.12,1539.47 987.55,1534.83 989.98,1530.16 992.41,1525.47 994.84,1520.76 997.27,1516.04 999.70,1511.31 1002.13,1506.57 1004.56,1501.85 1006.99,1497.13 1009.42,1492.43 1011.85,1487.76 1014.28,1483.11 1016.71,1478.49 1019.14,1473.92 1021.57,1469.39 1024.00,1464.90 1026.43,1460.47 1028.86,1456.10 1031.29,1451.79 1033.72,1447.55 1036.15,1443.37 1038.58,1439.27 1041.01,1435.25 1043.44,1431.30 1045.87,1427.44 1048.30,1423.66 1050.73,1419.96 1053.16,1416.36 1055.59,1412.84 1058.02,1409.41 1060.45,1406.07 1062.88,1402.82 1065.31,1399.66 1067.74,1396.59 1070.17,1393.62 1072.60,1390.73 1075.03,1387.93 1077.46,1385.22 1079.89,1382.60 1082.32,1380.07 1084.75,1377.62 1087.18,1375.26 1089.61,1372.98 1092.04,1370.78 1094.47,1368.66 1096.90,1366.62 1099.33,1364.65 1101.76,1362.76 1104.19,1360.94 1106.62,1359.19 1109.05,1357.51 1111.48,1355.90 1113.91,1354.35 1116.34,1352.86 1118.77,1351.43 1121.20,1350.06 1123.63,1348.75 1126.06,1347.49 1128.49,1346.29 1130.92,1345.13 1133.35,1344.03 1135.78,1342.97 1138.21,1341.96 1140.64,1341.00 1143.07,1340.07 1145.49,1339.19 1147.92,1338.34 1150.35,1337.53 1152.78,1336.76 1155.21,1336.02 1157.64,1335.32 1160.07,1334.65 1162.50,1334.01 1164.93,1333.39 1167.36,1332.81 1169.79,1332.25 1172.22,1331.72 1174.65,1331.21 1177.08,1330.72 1179.51,1330.26 1181.94,1329.82 1184.37,1329.40 1186.80,1329.00 1189.23,1328.62 1191.66,1328.26 1194.09,1327.91 1196.52,1327.58 1198.95,1327.26 1201.38,1326.96 1203.81,1326.68 1206.24,1326.40 1208.67,1326.14 1211.10,1325.90 1213.53,1325.66 1215.96,1325.44 1218.39,1325.22 1220.82,1325.02 1223.25,1324.83 1225.68,1324.64 1228.11,1324.47 1230.54,1324.30 1232.97,1324.14 1235.40,1323.99 1237.83,1323.84 1240.26,1323.71" fill="none" stroke="#0b4063" stroke-width="2.2" stroke-linejoin="round" />
<polygon points="888.4,1600.4 883.9,1608.4 892.9,1608.4" fill="none" stroke="#a9c9df" stroke-width="2"/>
<rect x="883.4" y="1610.4" width="10" height="10" fill="none" stroke="#8a8a8a" stroke-width="2"/>
<polygon points="888.4,1631.7 884.4,1639.7 892.4,1639.7" fill="#5b9cc6"/>
<rect x="882.95" y="1639.00" width="11.00" height="11.00" fill="#0b4063"/>
<rect x="960.2" y="1514.4" width="10" height="10" fill="none" stroke="#8a8a8a" stroke-width="2"/>
<line x1="965.19" y1="1525.00" x2="965.19" y2="1535.00" stroke="#a9c9df" stroke-width="2" />
<line x1="960.19" y1="1525.00" x2="970.19" y2="1525.00" stroke="#a9c9df" stroke-width="2" />
<line x1="960.19" y1="1535.00" x2="970.19" y2="1535.00" stroke="#a9c9df" stroke-width="2" />
<rect x="959.19" y="1571.30" width="12.00" height="12.00" fill="#0b4063"/>
<rect x="1036.9" y="1373.5" width="10" height="10" fill="none" stroke="#8a8a8a" stroke-width="2"/>
<rect x="1036.44" y="1465.50" width="11.00" height="11.00" fill="#0b4063"/>
<polygon points="1041.9,1476.0 1037.9,1484.0 1045.9,1484.0" fill="#5b9cc6"/>
<polygon points="1075.0,1328.7 1070.5,1336.7 1079.5,1336.7" fill="none" stroke="#a9c9df" stroke-width="2"/>
<rect x="1070.0" y="1346.0" width="10" height="10" fill="none" stroke="#8a8a8a" stroke-width="2"/>
<rect x="1069.49" y="1375.90" width="11.00" height="11.00" fill="#0b4063"/>
<polygon points="1075.0,1394.1 1070.2,1403.7 1079.8,1403.7" fill="#5b9cc6"/>
<polygon points="1108.0,1302.7 1104.0,1310.7 1112.0,1310.7" fill="#a9c9df"/>
<rect x="1102.55" y="1311.70" width="11.00" height="11.00" fill="#0b4063"/>
<line x1="749.10" y1="1217.50" x2="774.10" y2="1217.50" stroke="#8a8a8a" stroke-width="2" />
<rect x="757.1" y="1213.0" width="9" height="9" fill="none" stroke="#8a8a8a" stroke-width="2"/>
<text x="777.3" y="1226.0" font-size="21.3" text-anchor="start" font-weight="normal" fill="#141414" >Standard internal -120 mV</text>
<text x="777.3" y="1251.9" font-size="21.3" text-anchor="start" font-weight="normal" fill="#141414" >IC<tspan font-size="12.5" dy="7">50</tspan><tspan dy="-7"> = 170 ± 8 μM</tspan></text>
<text x="777.3" y="1277.0" font-size="21.3" text-anchor="start" font-weight="normal" fill="#141414" >(n = 2 chips)</text>
<line x1="749.10" y1="1301.00" x2="774.10" y2="1301.00" stroke="#a9c9df" stroke-width="2" />
<polygon points="761.6,1295.5 756.6,1304.3 766.6,1304.3" fill="none" stroke="#a9c9df" stroke-width="2"/>
<text x="777.3" y="1308.2" font-size="21.3" text-anchor="start" font-weight="normal" fill="#141414" >Fluoride-free internal -120 mV</text>
<text x="777.3" y="1333.2" font-size="21.3" text-anchor="start" font-weight="normal" fill="#141414" >IC<tspan font-size="12.5" dy="7">50</tspan><tspan dy="-7"> = 158 ± 15 μM</tspan></text>
<text x="777.3" y="1358.9" font-size="21.3" text-anchor="start" font-weight="normal" fill="#141414" >(n = 2 chips)</text>
<line x1="1015.90" y1="1544.60" x2="1041.90" y2="1544.60" stroke="#0b4063" stroke-width="2" />
<rect x="1024.00" y="1539.60" width="10.00" height="10.00" fill="#0b4063"/>
<text x="1044.8" y="1551.9" font-size="21.3" text-anchor="start" font-weight="normal" fill="#141414" >Standard internal 60 mV</text>
<text x="1044.8" y="1577.3" font-size="21.3" text-anchor="start" font-weight="normal" fill="#141414" >IC<tspan font-size="12.5" dy="7">50</tspan><tspan dy="-7"> = 540 ± 105 μM</tspan></text>
<text x="1044.8" y="1602.4" font-size="21.3" text-anchor="start" font-weight="normal" fill="#141414" >(n = 2 chips)</text>
<line x1="1015.90" y1="1627.00" x2="1041.90" y2="1627.00" stroke="#5b9cc6" stroke-width="2" />
<polygon points="1029.0,1621.0 1024.2,1630.6 1033.8,1630.6" fill="#5b9cc6"/>
<text x="1044.8" y="1632.8" font-size="21.3" text-anchor="start" font-weight="normal" fill="#141414" >Fluoride-free internal 60 mV</text>
<text x="1044.8" y="1658.2" font-size="21.3" text-anchor="start" font-weight="normal" fill="#141414" >IC<tspan font-size="12.5" dy="7">50</tspan><tspan dy="-7"> = 728 ± 161 μM</tspan></text>
<text x="1044.8" y="1684.2" font-size="21.3" text-anchor="start" font-weight="normal" fill="#141414" >(n = 2 chips)</text>
</svg></body></html>
